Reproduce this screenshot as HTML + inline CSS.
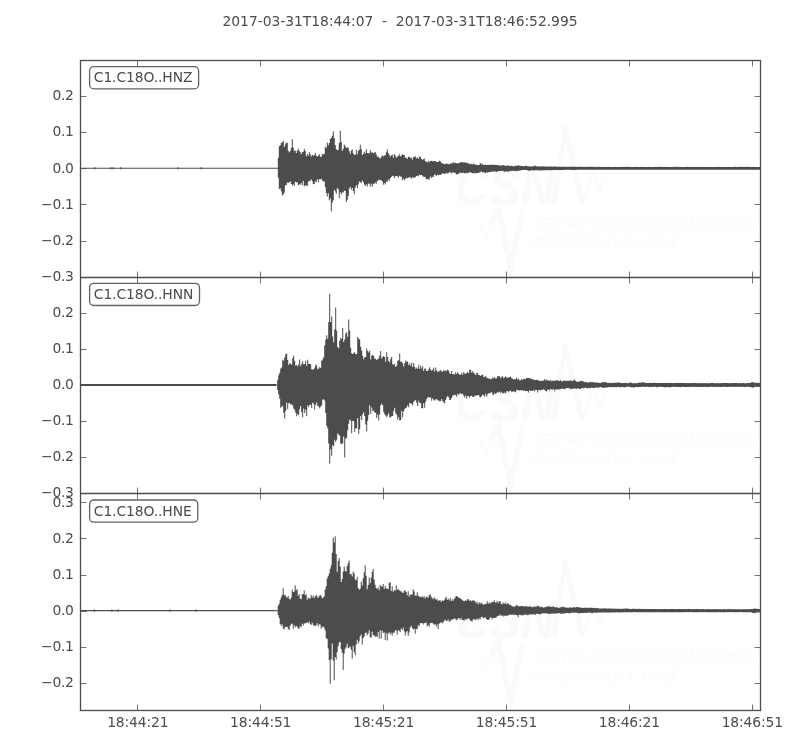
<!DOCTYPE html>
<html lang="en"><head><meta charset="utf-8">
<title>C1.C18O seismogram 2017-03-31T18:44:07</title>
<style>
html,body{margin:0;padding:0;background:#fff;}
body{width:800px;height:750px;overflow:hidden;}
svg{display:block;will-change:transform;}
text{font-family:"DejaVu Sans","Bitstream Vera Sans","Liberation Sans",sans-serif;font-size:13.89px;fill:#4c4c4c;}
.wm text{font-family:"Liberation Sans","DejaVu Sans",sans-serif;fill:#fafafa;}
</style></head><body>
<svg width="800" height="750" viewBox="0 0 800 750">
<rect width="800" height="750" fill="#fff"/>
<text x="400" y="26.3" text-anchor="middle" style="white-space:pre;letter-spacing:-0.03px">2017-03-31T18:44:07  -  2017-03-31T18:46:52.995</text>
<g>
<g class="wm" transform="translate(0 0.00)">
<text x="455" y="204.7" style="font-size:53px;font-weight:bold;font-style:italic" textLength="100" lengthAdjust="spacingAndGlyphs">CSN</text>
<path d="M551 204.7 L563.3 126 L567.6 126 L584.5 203.5 L580 203.5 L565.4 140 L557 204.7Z" fill="#fafafa"/>
<path d="M582.3 203.5 L593.6 172 L600 192 L603.7 176.5" fill="none" stroke="#fafafa" stroke-width="1.6"/>
<path d="M478.8 235 L482.5 226 L486.5 240 L491 224" fill="none" stroke="#fbfbfb" stroke-width="1.4"/>
<path d="M491 224 L499 209 L510.3 268.8 L522.7 209" fill="none" stroke="#fafafa" stroke-width="5.5" stroke-linejoin="miter" stroke-miterlimit="10"/>
<text x="532.8" y="229.6" style="font-size:16px;font-style:italic;fill:#fbfbfb" textLength="222.8" lengthAdjust="spacingAndGlyphs">CENTRO SISMOLÓGICO NACIONAL</text>
<text x="528.7" y="248.2" style="font-size:16px;font-style:italic;fill:#fbfbfb" textLength="150.6" lengthAdjust="spacingAndGlyphs">UNIVERSIDAD DE CHILE</text>
</g>
<path d="M80.5 167.81L276.8 167.81L276.80 167.83L277.80 167.83L277.80 157.70L278.80 157.70L278.80 146.15L279.80 146.15L279.80 145.32L280.80 145.32L280.80 143.06L281.80 143.06L281.80 142.13L282.80 142.13L282.80 140.78L283.80 140.78L283.80 147.00L284.80 147.00L284.80 144.44L285.80 144.44L285.80 142.59L286.80 142.59L286.80 142.88L287.80 142.88L287.80 150.85L288.80 150.85L288.80 152.32L289.80 152.32L289.80 150.99L290.80 150.99L290.80 147.67L291.80 147.67L291.80 139.33L292.80 139.33L292.80 147.71L293.80 147.71L293.80 150.64L294.80 150.64L294.80 150.53L295.80 150.53L295.80 153.07L296.80 153.07L296.80 150.49L297.80 150.49L297.80 148.82L298.80 148.82L298.80 151.09L299.80 151.09L299.80 152.17L300.80 152.17L300.80 154.15L301.80 154.15L301.80 152.18L302.80 152.18L302.80 151.63L303.80 151.63L303.80 148.83L304.80 148.83L304.80 150.99L305.80 150.99L305.80 156.25L306.80 156.25L306.80 153.94L307.80 153.94L307.80 155.79L308.80 155.79L308.80 152.24L309.80 152.24L309.80 154.33L310.80 154.33L310.80 156.52L311.80 156.52L311.80 154.67L312.80 154.67L312.80 155.86L313.80 155.86L313.80 154.94L314.80 154.94L314.80 152.79L315.80 152.79L315.80 155.83L316.80 155.83L316.80 156.53L317.80 156.53L317.80 155.85L318.80 155.85L318.80 154.14L319.80 154.14L319.80 156.58L320.80 156.58L320.80 157.02L321.80 157.02L321.80 154.12L322.80 154.12L322.80 154.45L323.80 154.45L323.80 153.66L324.80 153.66L324.80 146.85L325.80 146.85L325.80 147.89L326.80 147.89L326.80 142.46L327.80 142.46L327.80 145.26L328.80 145.26L328.80 143.05L329.80 143.05L329.80 138.98L330.80 138.98L330.80 137.90L331.80 137.90L331.80 135.86L332.80 135.86L332.80 131.33L333.80 131.33L333.80 138.22L334.80 138.22L334.80 144.98L335.80 144.98L335.80 149.21L336.80 149.21L336.80 150.14L337.80 150.14L337.80 149.82L338.80 149.82L338.80 142.96L339.80 142.96L339.80 130.83L340.80 130.83L340.80 141.67L341.80 141.67L341.80 151.03L342.80 151.03L342.80 148.76L343.80 148.76L343.80 144.69L344.80 144.69L344.80 146.24L345.80 146.24L345.80 147.96L346.80 147.96L346.80 147.26L347.80 147.26L347.80 147.81L348.80 147.81L348.80 151.23L349.80 151.23L349.80 153.87L350.80 153.87L350.80 150.62L351.80 150.62L351.80 149.46L352.80 149.46L352.80 153.19L353.80 153.19L353.80 154.78L354.80 154.78L354.80 154.91L355.80 154.91L355.80 150.04L356.80 150.04L356.80 154.37L357.80 154.37L357.80 151.09L358.80 151.09L358.80 149.73L359.80 149.73L359.80 144.83L360.80 144.83L360.80 149.29L361.80 149.29L361.80 155.09L362.80 155.09L362.80 154.00L363.80 154.00L363.80 151.75L364.80 151.75L364.80 153.58L365.80 153.58L365.80 149.16L366.80 149.16L366.80 153.01L367.80 153.01L367.80 153.13L368.80 153.13L368.80 153.14L369.80 153.14L369.80 150.17L370.80 150.17L370.80 152.39L371.80 152.39L371.80 152.29L372.80 152.29L372.80 153.19L373.80 153.19L373.80 152.64L374.80 152.64L374.80 152.07L375.80 152.07L375.80 154.19L376.80 154.19L376.80 156.84L377.80 156.84L377.80 156.40L378.80 156.40L378.80 157.92L379.80 157.92L379.80 158.41L380.80 158.41L380.80 156.78L381.80 156.78L381.80 155.23L382.80 155.23L382.80 156.52L383.80 156.52L383.80 155.57L384.80 155.57L384.80 155.21L385.80 155.21L385.80 152.31L386.80 152.31L386.80 149.53L387.80 149.53L387.80 153.08L388.80 153.08L388.80 154.72L389.80 154.72L389.80 156.82L390.80 156.82L390.80 155.18L391.80 155.18L391.80 154.51L392.80 154.51L392.80 157.75L393.80 157.75L393.80 154.25L394.80 154.25L394.80 155.48L395.80 155.48L395.80 157.80L396.80 157.80L396.80 156.81L397.80 156.81L397.80 155.86L398.80 155.86L398.80 154.14L399.80 154.14L399.80 156.54L400.80 156.54L400.80 155.43L401.80 155.43L401.80 154.20L402.80 154.20L402.80 155.11L403.80 155.11L403.80 154.95L404.80 154.95L404.80 157.71L405.80 157.71L405.80 157.49L406.80 157.49L406.80 158.90L407.80 158.90L407.80 157.04L408.80 157.04L408.80 156.53L409.80 156.53L409.80 157.66L410.80 157.66L410.80 157.71L411.80 157.71L411.80 159.63L412.80 159.63L412.80 157.35L413.80 157.35L413.80 156.67L414.80 156.67L414.80 156.37L415.80 156.37L415.80 158.30L416.80 158.30L416.80 157.40L417.80 157.40L417.80 159.12L418.80 159.12L418.80 156.60L419.80 156.60L419.80 156.65L420.80 156.65L420.80 158.72L421.80 158.72L421.80 159.63L422.80 159.63L422.80 159.15L423.80 159.15L423.80 158.45L424.80 158.45L424.80 161.04L425.80 161.04L425.80 161.74L426.80 161.74L426.80 162.21L427.80 162.21L427.80 160.89L428.80 160.89L428.80 162.19L429.80 162.19L429.80 161.00L430.80 161.00L430.80 160.76L431.80 160.76L431.80 160.95L432.80 160.95L432.80 161.39L433.80 161.39L433.80 160.99L434.80 160.99L434.80 160.93L435.80 160.93L435.80 161.89L436.80 161.89L436.80 161.71L437.80 161.71L437.80 161.97L438.80 161.97L438.80 160.63L439.80 160.63L439.80 161.36L440.80 161.36L440.80 162.58L441.80 162.58L441.80 163.50L442.80 163.50L442.80 163.41L443.80 163.41L443.80 164.19L444.80 164.19L444.80 164.02L445.80 164.02L445.80 163.40L446.80 163.40L446.80 163.83L447.80 163.83L447.80 164.30L448.80 164.30L448.80 164.25L449.80 164.25L449.80 163.51L450.80 163.51L450.80 163.48L451.80 163.48L451.80 163.21L452.80 163.21L452.80 161.98L453.80 161.98L453.80 163.20L454.80 163.20L454.80 162.63L455.80 162.63L455.80 163.29L456.80 163.29L456.80 163.37L457.80 163.37L457.80 163.16L458.80 163.16L458.80 163.00L459.80 163.00L459.80 162.45L460.80 162.45L460.80 161.94L461.80 161.94L461.80 162.13L462.80 162.13L462.80 162.41L463.80 162.41L463.80 162.24L464.80 162.24L464.80 162.50L465.80 162.50L465.80 163.07L466.80 163.07L466.80 162.83L467.80 162.83L467.80 163.50L468.80 163.50L468.80 163.87L469.80 163.87L469.80 164.36L470.80 164.36L470.80 163.68L471.80 163.68L471.80 164.38L472.80 164.38L472.80 163.78L473.80 163.78L473.80 163.87L474.80 163.87L474.80 164.99L475.80 164.99L475.80 164.49L476.80 164.49L476.80 165.14L477.80 165.14L477.80 164.97L478.80 164.97L478.80 164.91L479.80 164.91L479.80 163.09L480.80 163.09L480.80 164.31L481.80 164.31L481.80 163.76L482.80 163.76L482.80 164.99L483.80 164.99L483.80 164.73L484.80 164.73L484.80 164.66L485.80 164.66L485.80 165.05L486.80 165.05L486.80 164.94L487.80 164.94L487.80 164.65L488.80 164.65L488.80 165.05L489.80 165.05L489.80 165.10L490.80 165.10L490.80 164.43L491.80 164.43L491.80 164.83L492.80 164.83L492.80 164.84L493.80 164.84L493.80 164.82L494.80 164.82L494.80 164.93L495.80 164.93L495.80 164.78L496.80 164.78L496.80 165.32L497.80 165.32L497.80 164.96L498.80 164.96L498.80 165.62L499.80 165.62L499.80 165.50L500.80 165.50L500.80 165.51L501.80 165.51L501.80 165.43L502.80 165.43L502.80 165.12L503.80 165.12L503.80 165.35L504.80 165.35L504.80 165.97L505.80 165.97L505.80 165.85L506.80 165.85L506.80 165.55L507.80 165.55L507.80 165.39L508.80 165.39L508.80 165.65L509.80 165.65L509.80 166.03L510.80 166.03L510.80 165.83L511.80 165.83L511.80 165.95L512.80 165.95L512.80 166.20L513.80 166.20L513.80 166.35L514.80 166.35L514.80 165.57L515.80 165.57L515.80 165.90L516.80 165.90L516.80 165.52L517.80 165.52L517.80 165.31L518.80 165.31L518.80 165.87L519.80 165.87L519.80 165.79L520.80 165.79L520.80 166.07L521.80 166.07L521.80 166.09L522.80 166.09L522.80 166.19L523.80 166.19L523.80 166.37L524.80 166.37L524.80 165.89L525.80 165.89L525.80 165.51L526.80 165.51L526.80 166.26L527.80 166.26L527.80 166.48L528.80 166.48L528.80 166.32L529.80 166.32L529.80 166.49L530.80 166.49L530.80 166.43L531.80 166.43L531.80 166.36L532.80 166.36L532.80 166.49L533.80 166.49L533.80 165.64L534.80 165.64L534.80 165.85L535.80 165.85L535.80 166.22L536.80 166.22L536.80 166.32L537.80 166.32L537.80 166.47L538.80 166.47L538.80 166.38L539.80 166.38L539.80 166.35L540.80 166.35L540.80 166.46L541.80 166.46L541.80 166.40L542.80 166.40L542.80 166.37L543.80 166.37L543.80 166.58L544.80 166.58L544.80 166.59L545.80 166.59L545.80 166.42L546.80 166.42L546.80 166.40L547.80 166.40L547.80 166.64L548.80 166.64L548.80 166.42L549.80 166.42L549.80 166.44L550.80 166.44L550.80 166.56L551.80 166.56L551.80 166.63L552.80 166.63L552.80 166.47L553.80 166.47L553.80 166.60L554.80 166.60L554.80 166.53L555.80 166.53L555.80 166.71L556.80 166.71L556.80 166.64L557.80 166.64L557.80 166.74L558.80 166.74L558.80 166.74L559.80 166.74L559.80 166.63L560.80 166.63L560.80 166.73L561.80 166.73L561.80 166.71L562.80 166.71L562.80 166.69L563.80 166.69L563.80 166.61L564.80 166.61L564.80 166.77L565.80 166.77L565.80 166.64L566.80 166.64L566.80 166.70L567.80 166.70L567.80 166.78L568.80 166.78L568.80 166.73L569.80 166.73L569.80 166.72L570.80 166.72L570.80 166.82L571.80 166.82L571.80 166.66L572.80 166.66L572.80 166.69L573.80 166.69L573.80 166.86L574.80 166.86L574.80 166.80L575.80 166.80L575.80 166.87L576.80 166.87L576.80 166.88L577.80 166.88L577.80 166.76L578.80 166.76L578.80 166.78L579.80 166.78L579.80 166.82L580.80 166.82L580.80 166.85L581.80 166.85L581.80 166.75L582.80 166.75L582.80 166.90L583.80 166.90L583.80 166.80L584.80 166.80L584.80 166.88L585.80 166.88L585.80 166.88L586.80 166.88L586.80 166.86L587.80 166.86L587.80 166.74L588.80 166.74L588.80 166.83L589.80 166.83L589.80 166.76L590.80 166.76L590.80 166.87L591.80 166.87L591.80 166.78L592.80 166.78L592.80 166.93L593.80 166.93L593.80 166.86L594.80 166.86L594.80 166.90L595.80 166.90L595.80 166.95L596.80 166.95L596.80 166.84L597.80 166.84L597.80 166.91L598.80 166.91L598.80 166.84L599.80 166.84L599.80 166.95L600.80 166.95L600.80 166.84L601.80 166.84L601.80 166.96L602.80 166.96L602.80 166.88L603.80 166.88L603.80 166.81L604.80 166.81L604.80 166.91L605.80 166.91L605.80 166.94L606.80 166.94L606.80 166.92L607.80 166.92L607.80 166.83L608.80 166.83L608.80 166.93L609.80 166.93L609.80 166.94L610.80 166.94L610.80 166.93L611.80 166.93L611.80 166.90L612.80 166.90L612.80 166.91L613.80 166.91L613.80 166.90L614.80 166.90L614.80 166.87L615.80 166.87L615.80 166.95L616.80 166.95L616.80 166.91L617.80 166.91L617.80 166.90L618.80 166.90L618.80 166.89L619.80 166.89L619.80 166.99L620.80 166.99L620.80 166.86L621.80 166.86L621.80 166.99L622.80 166.99L622.80 166.84L623.80 166.84L623.80 166.89L624.80 166.89L624.80 166.87L625.80 166.87L625.80 166.96L626.80 166.96L626.80 166.87L627.80 166.87L627.80 166.87L628.80 166.87L628.80 166.94L629.80 166.94L629.80 166.88L630.80 166.88L630.80 166.91L631.80 166.91L631.80 166.88L632.80 166.88L632.80 166.93L633.80 166.93L633.80 166.89L634.80 166.89L634.80 166.86L635.80 166.86L635.80 166.85L636.80 166.85L636.80 166.89L637.80 166.89L637.80 166.88L638.80 166.88L638.80 166.93L639.80 166.93L639.80 166.98L640.80 166.98L640.80 166.83L641.80 166.83L641.80 166.98L642.80 166.98L642.80 166.93L643.80 166.93L643.80 166.83L644.80 166.83L644.80 166.95L645.80 166.95L645.80 166.89L646.80 166.89L646.80 166.97L647.80 166.97L647.80 166.92L648.80 166.92L648.80 166.84L649.80 166.84L649.80 166.99L650.80 166.99L650.80 166.97L651.80 166.97L651.80 166.88L652.80 166.88L652.80 166.97L653.80 166.97L653.80 166.96L654.80 166.96L654.80 166.87L655.80 166.87L655.80 166.91L656.80 166.91L656.80 166.92L657.80 166.92L657.80 166.85L658.80 166.85L658.80 166.95L659.80 166.95L659.80 166.84L660.80 166.84L660.80 166.97L661.80 166.97L661.80 166.84L662.80 166.84L662.80 166.94L663.80 166.94L663.80 166.92L664.80 166.92L664.80 166.83L665.80 166.83L665.80 166.97L666.80 166.97L666.80 166.92L667.80 166.92L667.80 166.87L668.80 166.87L668.80 166.90L669.80 166.90L669.80 166.98L670.80 166.98L670.80 166.96L671.80 166.96L671.80 166.92L672.80 166.92L672.80 166.83L673.80 166.83L673.80 166.91L674.80 166.91L674.80 166.87L675.80 166.87L675.80 166.86L676.80 166.86L676.80 166.86L677.80 166.86L677.80 166.96L678.80 166.96L678.80 166.99L679.80 166.99L679.80 166.93L680.80 166.93L680.80 166.91L681.80 166.91L681.80 166.96L682.80 166.96L682.80 166.94L683.80 166.94L683.80 166.99L684.80 166.99L684.80 166.97L685.80 166.97L685.80 166.92L686.80 166.92L686.80 166.86L687.80 166.86L687.80 166.96L688.80 166.96L688.80 166.96L689.80 166.96L689.80 166.88L690.80 166.88L690.80 166.89L691.80 166.89L691.80 166.94L692.80 166.94L692.80 166.84L693.80 166.84L693.80 166.90L694.80 166.90L694.80 166.95L695.80 166.95L695.80 166.97L696.80 166.97L696.80 166.93L697.80 166.93L697.80 166.84L698.80 166.84L698.80 166.98L699.80 166.98L699.80 166.96L700.80 166.96L700.80 166.92L701.80 166.92L701.80 166.95L702.80 166.95L702.80 166.90L703.80 166.90L703.80 166.98L704.80 166.98L704.80 166.96L705.80 166.96L705.80 166.91L706.80 166.91L706.80 166.96L707.80 166.96L707.80 167.00L708.80 167.00L708.80 167.00L709.80 167.00L709.80 166.89L710.80 166.89L710.80 166.94L711.80 166.94L711.80 166.91L712.80 166.91L712.80 166.97L713.80 166.97L713.80 166.99L714.80 166.99L714.80 167.00L715.80 167.00L715.80 166.94L716.80 166.94L716.80 166.90L717.80 166.90L717.80 166.87L718.80 166.87L718.80 166.96L719.80 166.96L719.80 167.01L720.80 167.01L720.80 166.89L721.80 166.89L721.80 166.88L722.80 166.88L722.80 166.91L723.80 166.91L723.80 166.96L724.80 166.96L724.80 166.90L725.80 166.90L725.80 166.95L726.80 166.95L726.80 166.88L727.80 166.88L727.80 166.91L728.80 166.91L728.80 166.88L729.80 166.88L729.80 166.92L730.80 166.92L730.80 166.93L731.80 166.93L731.80 166.89L732.80 166.89L732.80 166.93L733.80 166.93L733.80 166.87L734.80 166.87L734.80 166.85L735.80 166.85L735.80 166.98L736.80 166.98L736.80 166.97L737.80 166.97L737.80 166.89L738.80 166.89L738.80 166.85L739.80 166.85L739.80 166.94L740.80 166.94L740.80 166.85L741.80 166.85L741.80 166.86L742.80 166.86L742.80 166.92L743.80 166.92L743.80 166.97L744.80 166.97L744.80 166.84L745.80 166.84L745.80 166.91L746.80 166.91L746.80 166.87L747.80 166.87L747.80 166.86L748.80 166.86L748.80 166.92L749.80 166.92L749.80 166.99L750.80 166.99L750.80 167.01L751.80 167.01L751.80 166.99L752.80 166.99L752.80 166.85L753.80 166.85L753.80 166.97L754.80 166.97L754.80 166.89L755.80 166.89L755.80 166.92L756.80 166.92L756.80 167.02L757.80 167.02L757.80 166.94L758.80 166.94L758.80 166.95L759.80 166.95L759.80 166.99L760.80 166.99L760.80 169.74L759.80 169.74L759.80 169.79L758.80 169.79L758.80 169.65L757.80 169.65L757.80 169.70L756.80 169.70L756.80 169.72L755.80 169.72L755.80 169.71L754.80 169.71L754.80 169.72L753.80 169.72L753.80 169.65L752.80 169.65L752.80 169.81L751.80 169.81L751.80 169.71L750.80 169.71L750.80 169.64L749.80 169.64L749.80 169.77L748.80 169.77L748.80 169.64L747.80 169.64L747.80 169.80L746.80 169.80L746.80 169.75L745.80 169.75L745.80 169.77L744.80 169.77L744.80 169.75L743.80 169.75L743.80 169.78L742.80 169.78L742.80 169.70L741.80 169.70L741.80 169.81L740.80 169.81L740.80 169.76L739.80 169.76L739.80 169.71L738.80 169.71L738.80 169.71L737.80 169.71L737.80 169.69L736.80 169.69L736.80 169.66L735.80 169.66L735.80 169.77L734.80 169.77L734.80 169.73L733.80 169.73L733.80 169.74L732.80 169.74L732.80 169.69L731.80 169.69L731.80 169.74L730.80 169.74L730.80 169.81L729.80 169.81L729.80 169.64L728.80 169.64L728.80 169.71L727.80 169.71L727.80 169.73L726.80 169.73L726.80 169.68L725.80 169.68L725.80 169.69L724.80 169.69L724.80 169.66L723.80 169.66L723.80 169.71L722.80 169.71L722.80 169.73L721.80 169.73L721.80 169.79L720.80 169.79L720.80 169.72L719.80 169.72L719.80 169.70L718.80 169.70L718.80 169.72L717.80 169.72L717.80 169.69L716.80 169.69L716.80 169.69L715.80 169.69L715.80 169.80L714.80 169.80L714.80 169.74L713.80 169.74L713.80 169.80L712.80 169.80L712.80 169.73L711.80 169.73L711.80 169.80L710.80 169.80L710.80 169.69L709.80 169.69L709.80 169.71L708.80 169.71L708.80 169.79L707.80 169.79L707.80 169.81L706.80 169.81L706.80 169.66L705.80 169.66L705.80 169.73L704.80 169.73L704.80 169.77L703.80 169.77L703.80 169.78L702.80 169.78L702.80 169.64L701.80 169.64L701.80 169.81L700.80 169.81L700.80 169.75L699.80 169.75L699.80 169.73L698.80 169.73L698.80 169.67L697.80 169.67L697.80 169.66L696.80 169.66L696.80 169.72L695.80 169.72L695.80 169.72L694.80 169.72L694.80 169.65L693.80 169.65L693.80 169.68L692.80 169.68L692.80 169.69L691.80 169.69L691.80 169.66L690.80 169.66L690.80 169.74L689.80 169.74L689.80 169.73L688.80 169.73L688.80 169.78L687.80 169.78L687.80 169.73L686.80 169.73L686.80 169.70L685.80 169.70L685.80 169.80L684.80 169.80L684.80 169.79L683.80 169.79L683.80 169.72L682.80 169.72L682.80 169.78L681.80 169.78L681.80 169.78L680.80 169.78L680.80 169.77L679.80 169.77L679.80 169.75L678.80 169.75L678.80 169.65L677.80 169.65L677.80 169.71L676.80 169.71L676.80 169.70L675.80 169.70L675.80 169.81L674.80 169.81L674.80 169.76L673.80 169.76L673.80 169.72L672.80 169.72L672.80 169.82L671.80 169.82L671.80 169.75L670.80 169.75L670.80 169.71L669.80 169.71L669.80 169.81L668.80 169.81L668.80 169.75L667.80 169.75L667.80 169.70L666.80 169.70L666.80 169.70L665.80 169.70L665.80 169.75L664.80 169.75L664.80 169.81L663.80 169.81L663.80 169.70L662.80 169.70L662.80 169.77L661.80 169.77L661.80 169.70L660.80 169.70L660.80 169.80L659.80 169.80L659.80 169.74L658.80 169.74L658.80 169.79L657.80 169.79L657.80 169.70L656.80 169.70L656.80 169.68L655.80 169.68L655.80 169.66L654.80 169.66L654.80 169.68L653.80 169.68L653.80 169.76L652.80 169.76L652.80 169.81L651.80 169.81L651.80 169.69L650.80 169.69L650.80 169.65L649.80 169.65L649.80 169.75L648.80 169.75L648.80 169.71L647.80 169.71L647.80 169.72L646.80 169.72L646.80 169.79L645.80 169.79L645.80 169.79L644.80 169.79L644.80 169.74L643.80 169.74L643.80 169.76L642.80 169.76L642.80 169.81L641.80 169.81L641.80 169.72L640.80 169.72L640.80 169.78L639.80 169.78L639.80 169.75L638.80 169.75L638.80 169.71L637.80 169.71L637.80 169.70L636.80 169.70L636.80 169.76L635.80 169.76L635.80 169.67L634.80 169.67L634.80 169.75L633.80 169.75L633.80 169.66L632.80 169.66L632.80 169.72L631.80 169.72L631.80 169.66L630.80 169.66L630.80 169.76L629.80 169.76L629.80 169.69L628.80 169.69L628.80 169.70L627.80 169.70L627.80 169.64L626.80 169.64L626.80 169.76L625.80 169.76L625.80 169.77L624.80 169.77L624.80 169.75L623.80 169.75L623.80 169.81L622.80 169.81L622.80 169.80L621.80 169.80L621.80 169.79L620.80 169.79L620.80 169.67L619.80 169.67L619.80 169.79L618.80 169.79L618.80 169.70L617.80 169.70L617.80 169.66L616.80 169.66L616.80 169.67L615.80 169.67L615.80 169.80L614.80 169.80L614.80 169.78L613.80 169.78L613.80 169.78L612.80 169.78L612.80 169.73L611.80 169.73L611.80 169.74L610.80 169.74L610.80 169.75L609.80 169.75L609.80 169.67L608.80 169.67L608.80 169.74L607.80 169.74L607.80 169.78L606.80 169.78L606.80 169.77L605.80 169.77L605.80 169.65L604.80 169.65L604.80 169.73L603.80 169.73L603.80 169.79L602.80 169.79L602.80 169.76L601.80 169.76L601.80 169.69L600.80 169.69L600.80 169.82L599.80 169.82L599.80 169.80L598.80 169.80L598.80 169.82L597.80 169.82L597.80 169.70L596.80 169.70L596.80 169.82L595.80 169.82L595.80 169.68L594.80 169.68L594.80 169.76L593.80 169.76L593.80 169.73L592.80 169.73L592.80 169.66L591.80 169.66L591.80 169.75L590.80 169.75L590.80 169.69L589.80 169.69L589.80 169.73L588.80 169.73L588.80 169.73L587.80 169.73L587.80 169.80L586.80 169.80L586.80 169.76L585.80 169.76L585.80 169.77L584.80 169.77L584.80 169.81L583.80 169.81L583.80 169.69L582.80 169.69L582.80 169.72L581.80 169.72L581.80 169.68L580.80 169.68L580.80 169.72L579.80 169.72L579.80 169.72L578.80 169.72L578.80 169.80L577.80 169.80L577.80 169.71L576.80 169.71L576.80 169.77L575.80 169.77L575.80 169.88L574.80 169.88L574.80 169.90L573.80 169.90L573.80 169.86L572.80 169.86L572.80 169.90L571.80 169.90L571.80 169.92L570.80 169.92L570.80 169.81L569.80 169.81L569.80 169.85L568.80 169.85L568.80 169.85L567.80 169.85L567.80 169.80L566.80 169.80L566.80 169.81L565.80 169.81L565.80 169.90L564.80 169.90L564.80 169.84L563.80 169.84L563.80 169.88L562.80 169.88L562.80 169.90L561.80 169.90L561.80 169.91L560.80 169.91L560.80 170.01L559.80 170.01L559.80 170.07L558.80 170.07L558.80 169.99L557.80 169.99L557.80 169.98L556.80 169.98L556.80 169.95L555.80 169.95L555.80 170.02L554.80 170.02L554.80 170.08L553.80 170.08L553.80 170.02L552.80 170.02L552.80 170.22L551.80 170.22L551.80 170.25L550.80 170.25L550.80 170.25L549.80 170.25L549.80 170.29L548.80 170.29L548.80 170.10L547.80 170.10L547.80 170.17L546.80 170.17L546.80 170.27L545.80 170.27L545.80 170.34L544.80 170.34L544.80 170.15L543.80 170.15L543.80 170.19L542.80 170.19L542.80 170.20L541.80 170.20L541.80 170.39L540.80 170.39L540.80 170.44L539.80 170.44L539.80 170.43L538.80 170.43L538.80 170.35L537.80 170.35L537.80 170.33L536.80 170.33L536.80 170.30L535.80 170.30L535.80 170.31L534.80 170.31L534.80 170.45L533.80 170.45L533.80 170.49L532.80 170.49L532.80 170.26L531.80 170.26L531.80 170.30L530.80 170.30L530.80 170.38L529.80 170.38L529.80 170.88L528.80 170.88L528.80 170.45L527.80 170.45L527.80 170.22L526.80 170.22L526.80 170.05L525.80 170.05L525.80 170.02L524.80 170.02L524.80 170.03L523.80 170.03L523.80 170.06L522.80 170.06L522.80 170.11L521.80 170.11L521.80 170.20L520.80 170.20L520.80 170.46L519.80 170.46L519.80 170.54L518.80 170.54L518.80 170.96L517.80 170.96L517.80 170.86L516.80 170.86L516.80 171.22L515.80 171.22L515.80 170.84L514.80 170.84L514.80 171.02L513.80 171.02L513.80 170.77L512.80 170.77L512.80 170.77L511.80 170.77L511.80 171.11L510.80 171.11L510.80 170.73L509.80 170.73L509.80 171.16L508.80 171.16L508.80 172.10L507.80 172.10L507.80 171.26L506.80 171.26L506.80 171.54L505.80 171.54L505.80 171.57L504.80 171.57L504.80 172.00L503.80 172.00L503.80 170.93L502.80 170.93L502.80 170.70L501.80 170.70L501.80 170.79L500.80 170.79L500.80 171.12L499.80 171.12L499.80 170.99L498.80 170.99L498.80 171.10L497.80 171.10L497.80 171.76L496.80 171.76L496.80 171.99L495.80 171.99L495.80 171.52L494.80 171.52L494.80 171.43L493.80 171.43L493.80 171.49L492.80 171.49L492.80 171.66L491.80 171.66L491.80 171.41L490.80 171.41L490.80 172.22L489.80 172.22L489.80 172.02L488.80 172.02L488.80 172.23L487.80 172.23L487.80 172.82L486.80 172.82L486.80 172.23L485.80 172.23L485.80 173.23L484.80 173.23L484.80 172.48L483.80 172.48L483.80 172.22L482.80 172.22L482.80 172.17L481.80 172.17L481.80 171.62L480.80 171.62L480.80 172.12L479.80 172.12L479.80 172.45L478.80 172.45L478.80 173.01L477.80 173.01L477.80 172.91L476.80 172.91L476.80 173.06L475.80 173.06L475.80 173.46L474.80 173.46L474.80 172.71L473.80 172.71L473.80 173.41L472.80 173.41L472.80 172.98L471.80 172.98L471.80 172.82L470.80 172.82L470.80 172.15L469.80 172.15L469.80 172.29L468.80 172.29L468.80 173.29L467.80 173.29L467.80 172.80L466.80 172.80L466.80 173.13L465.80 173.13L465.80 173.20L464.80 173.20L464.80 173.28L463.80 173.28L463.80 172.65L462.80 172.65L462.80 172.82L461.80 172.82L461.80 173.35L460.80 173.35L460.80 172.57L459.80 172.57L459.80 173.31L458.80 173.31L458.80 174.07L457.80 174.07L457.80 174.16L456.80 174.16L456.80 174.55L455.80 174.55L455.80 172.95L454.80 172.95L454.80 172.57L453.80 172.57L453.80 172.61L452.80 172.61L452.80 172.48L451.80 172.48L451.80 173.39L450.80 173.39L450.80 172.27L449.80 172.27L449.80 172.31L448.80 172.31L448.80 173.28L447.80 173.28L447.80 173.75L446.80 173.75L446.80 172.85L445.80 172.85L445.80 173.83L444.80 173.83L444.80 173.88L443.80 173.88L443.80 173.58L442.80 173.58L442.80 173.17L441.80 173.17L441.80 174.63L440.80 174.63L440.80 174.85L439.80 174.85L439.80 174.76L438.80 174.76L438.80 175.24L437.80 175.24L437.80 174.86L436.80 174.86L436.80 176.23L435.80 176.23L435.80 174.61L434.80 174.61L434.80 175.10L433.80 175.10L433.80 177.34L432.80 177.34L432.80 176.86L431.80 176.86L431.80 178.04L430.80 178.04L430.80 176.49L429.80 176.49L429.80 179.40L428.80 179.40L428.80 179.33L427.80 179.33L427.80 178.93L426.80 178.93L426.80 179.27L425.80 179.27L425.80 177.19L424.80 177.19L424.80 176.84L423.80 176.84L423.80 176.66L422.80 176.66L422.80 175.58L421.80 175.58L421.80 175.01L420.80 175.01L420.80 175.35L419.80 175.35L419.80 174.59L418.80 174.59L418.80 176.15L417.80 176.15L417.80 175.73L416.80 175.73L416.80 176.03L415.80 176.03L415.80 177.54L414.80 177.54L414.80 177.61L413.80 177.61L413.80 177.69L412.80 177.69L412.80 177.16L411.80 177.16L411.80 178.65L410.80 178.65L410.80 177.37L409.80 177.37L409.80 177.22L408.80 177.22L408.80 177.73L407.80 177.73L407.80 178.32L406.80 178.32L406.80 177.68L405.80 177.68L405.80 179.05L404.80 179.05L404.80 180.24L403.80 180.24L403.80 178.62L402.80 178.62L402.80 180.32L401.80 180.32L401.80 176.80L400.80 176.80L400.80 176.48L399.80 176.48L399.80 175.75L398.80 175.75L398.80 177.46L397.80 177.46L397.80 176.48L396.80 176.48L396.80 176.04L395.80 176.04L395.80 176.24L394.80 176.24L394.80 178.22L393.80 178.22L393.80 176.12L392.80 176.12L392.80 175.69L391.80 175.69L391.80 176.91L390.80 176.91L390.80 178.30L389.80 178.30L389.80 180.76L388.80 180.76L388.80 179.58L387.80 179.58L387.80 181.70L386.80 181.70L386.80 181.47L385.80 181.47L385.80 184.40L384.80 184.40L384.80 183.06L383.80 183.06L383.80 184.84L382.80 184.84L382.80 181.42L381.80 181.42L381.80 180.19L380.80 180.19L380.80 180.14L379.80 180.14L379.80 179.41L378.80 179.41L378.80 180.24L377.80 180.24L377.80 181.00L376.80 181.00L376.80 183.67L375.80 183.67L375.80 182.51L374.80 182.51L374.80 183.77L373.80 183.77L373.80 183.71L372.80 183.71L372.80 186.83L371.80 186.83L371.80 183.82L370.80 183.82L370.80 186.43L369.80 186.43L369.80 183.42L368.80 183.42L368.80 183.79L367.80 183.79L367.80 186.62L366.80 186.62L366.80 184.30L365.80 184.30L365.80 185.90L364.80 185.90L364.80 184.47L363.80 184.47L363.80 181.99L362.80 181.99L362.80 180.59L361.80 180.59L361.80 182.85L360.80 182.85L360.80 182.17L359.80 182.17L359.80 181.47L358.80 181.47L358.80 184.57L357.80 184.57L357.80 188.36L356.80 188.36L356.80 185.20L355.80 185.20L355.80 187.54L354.80 187.54L354.80 194.33L353.80 194.33L353.80 190.88L352.80 190.88L352.80 188.05L351.80 188.05L351.80 189.71L350.80 189.71L350.80 186.87L349.80 186.87L349.80 188.42L348.80 188.42L348.80 196.02L347.80 196.02L347.80 199.68L346.80 199.68L346.80 201.94L345.80 201.94L345.80 190.92L344.80 190.92L344.80 190.53L343.80 190.53L343.80 192.38L342.80 192.38L342.80 192.52L341.80 192.52L341.80 194.58L340.80 194.58L340.80 192.30L339.80 192.30L339.80 198.30L338.80 198.30L338.80 189.37L337.80 189.37L337.80 187.98L336.80 187.98L336.80 193.80L335.80 193.80L335.80 191.13L334.80 191.13L334.80 189.70L333.80 189.70L333.80 200.30L332.80 200.30L332.80 202.81L331.80 202.81L331.80 211.33L330.80 211.33L330.80 198.20L329.80 198.20L329.80 200.36L328.80 200.36L328.80 193.25L327.80 193.25L327.80 196.40L326.80 196.40L326.80 193.03L325.80 193.03L325.80 187.02L324.80 187.02L324.80 181.29L323.80 181.29L323.80 181.38L322.80 181.38L322.80 180.53L321.80 180.53L321.80 178.84L320.80 178.84L320.80 179.32L319.80 179.32L319.80 179.32L318.80 179.32L318.80 182.17L317.80 182.17L317.80 179.35L316.80 179.35L316.80 181.76L315.80 181.76L315.80 181.60L314.80 181.60L314.80 184.13L313.80 184.13L313.80 184.10L312.80 184.10L312.80 181.17L311.80 181.17L311.80 179.18L310.80 179.18L310.80 180.64L309.80 180.64L309.80 180.78L308.80 180.78L308.80 181.82L307.80 181.82L307.80 185.96L306.80 185.96L306.80 185.49L305.80 185.49L305.80 185.24L304.80 185.24L304.80 186.44L303.80 186.44L303.80 180.99L302.80 180.99L302.80 185.29L301.80 185.29L301.80 182.97L300.80 182.97L300.80 184.48L299.80 184.48L299.80 184.61L298.80 184.61L298.80 185.15L297.80 185.15L297.80 182.51L296.80 182.51L296.80 182.24L295.80 182.24L295.80 181.75L294.80 181.75L294.80 185.92L293.80 185.92L293.80 184.19L292.80 184.19L292.80 185.42L291.80 185.42L291.80 184.09L290.80 184.09L290.80 181.23L289.80 181.23L289.80 182.09L288.80 182.09L288.80 182.88L287.80 182.88L287.80 182.38L286.80 182.38L286.80 184.99L285.80 184.99L285.80 185.56L284.80 185.56L284.80 192.72L283.80 192.72L283.80 194.18L282.80 194.18L282.80 195.54L281.80 195.54L281.80 191.29L280.80 191.29L280.80 188.34L279.80 188.34L279.80 189.14L278.80 189.14L278.80 177.65L277.80 177.65L277.80 168.83L276.80 168.83L276.8 168.86L80.5 168.86ZM94.2 167.36h1.3v1.85h-1.3ZM110.3 167.36h1.3v1.85h-1.3ZM112.5 167.36h1.3v1.85h-1.3ZM120.0 167.36h1.3v1.85h-1.3ZM177.3 167.36h1.3v1.85h-1.3ZM200.3 167.36h1.3v1.85h-1.3Z" fill="#4c4c4c" stroke="none"/>
<path d="M80.50 96.50h5.90M760.50 96.50h-5.90" stroke="#4c4c4c" stroke-width="0.80" fill="none"/>
<text x="73.6" y="100.31" text-anchor="end" style="letter-spacing:-0.3px">0.2</text>
<path d="M80.50 132.50h5.90M760.50 132.50h-5.90" stroke="#4c4c4c" stroke-width="0.80" fill="none"/>
<text x="73.6" y="136.42" text-anchor="end" style="letter-spacing:-0.3px">0.1</text>
<path d="M80.50 168.50h5.90M760.50 168.50h-5.90" stroke="#4c4c4c" stroke-width="0.80" fill="none"/>
<text x="73.6" y="172.53" text-anchor="end" style="letter-spacing:-0.3px">0.0</text>
<path d="M80.50 204.50h5.90M760.50 204.50h-5.90" stroke="#4c4c4c" stroke-width="0.80" fill="none"/>
<text x="73.6" y="208.64" text-anchor="end" style="letter-spacing:-0.3px">−0.1</text>
<path d="M80.50 241.50h5.90M760.50 241.50h-5.90" stroke="#4c4c4c" stroke-width="0.80" fill="none"/>
<text x="73.6" y="244.75" text-anchor="end" style="letter-spacing:-0.3px">−0.2</text>
<path d="M80.50 277.50h5.90M760.50 277.50h-5.90" stroke="#4c4c4c" stroke-width="0.80" fill="none"/>
<text x="73.6" y="280.86" text-anchor="end" style="letter-spacing:-0.3px">−0.3</text>
<path d="M137.50 277.50v-5.90M137.50 60.50v5.90" stroke="#4c4c4c" stroke-width="0.80" fill="none"/>
<path d="M260.50 277.50v-5.90M260.50 60.50v5.90" stroke="#4c4c4c" stroke-width="0.80" fill="none"/>
<path d="M383.50 277.50v-5.90M383.50 60.50v5.90" stroke="#4c4c4c" stroke-width="0.80" fill="none"/>
<path d="M506.50 277.50v-5.90M506.50 60.50v5.90" stroke="#4c4c4c" stroke-width="0.80" fill="none"/>
<path d="M629.50 277.50v-5.90M629.50 60.50v5.90" stroke="#4c4c4c" stroke-width="0.80" fill="none"/>
<path d="M752.50 277.50v-5.90M752.50 60.50v5.90" stroke="#4c4c4c" stroke-width="0.80" fill="none"/>
<rect x="89.60" y="66.65" width="109.00" height="22.20" rx="4.2" ry="4.2" fill="#fff" fill-opacity="0.8" stroke="#626262" stroke-width="1.3"/>
<text x="93.8" y="82.30" style="letter-spacing:-0.1px">C1.C18O..HNZ</text>
</g>
<g>
<g class="wm" transform="translate(0 216.67)">
<text x="455" y="204.7" style="font-size:53px;font-weight:bold;font-style:italic" textLength="100" lengthAdjust="spacingAndGlyphs">CSN</text>
<path d="M551 204.7 L563.3 126 L567.6 126 L584.5 203.5 L580 203.5 L565.4 140 L557 204.7Z" fill="#fafafa"/>
<path d="M582.3 203.5 L593.6 172 L600 192 L603.7 176.5" fill="none" stroke="#fafafa" stroke-width="1.6"/>
<path d="M478.8 235 L482.5 226 L486.5 240 L491 224" fill="none" stroke="#fbfbfb" stroke-width="1.4"/>
<path d="M491 224 L499 209 L510.3 268.8 L522.7 209" fill="none" stroke="#fafafa" stroke-width="5.5" stroke-linejoin="miter" stroke-miterlimit="10"/>
<text x="532.8" y="229.6" style="font-size:16px;font-style:italic;fill:#fbfbfb" textLength="222.8" lengthAdjust="spacingAndGlyphs">CENTRO SISMOLÓGICO NACIONAL</text>
<text x="528.7" y="248.2" style="font-size:16px;font-style:italic;fill:#fbfbfb" textLength="150.6" lengthAdjust="spacingAndGlyphs">UNIVERSIDAD DE CHILE</text>
</g>
<path d="M80.5 384.02L276.2 384.02L276.20 384.45L277.20 384.45L277.20 379.69L278.20 379.69L278.20 375.24L279.20 375.24L279.20 372.64L280.20 372.64L280.20 368.59L281.20 368.59L281.20 367.38L282.20 367.38L282.20 359.84L283.20 359.84L283.20 360.82L284.20 360.82L284.20 357.53L285.20 357.53L285.20 354.22L286.20 354.22L286.20 353.45L287.20 353.45L287.20 360.11L288.20 360.11L288.20 364.98L289.20 364.98L289.20 363.32L290.20 363.32L290.20 363.60L291.20 363.60L291.20 364.84L292.20 364.84L292.20 358.30L293.20 358.30L293.20 355.45L294.20 355.45L294.20 361.01L295.20 361.01L295.20 365.60L296.20 365.60L296.20 364.97L297.20 364.97L297.20 366.40L298.20 366.40L298.20 364.19L299.20 364.19L299.20 359.45L300.20 359.45L300.20 366.16L301.20 366.16L301.20 363.78L302.20 363.78L302.20 361.29L303.20 361.29L303.20 364.29L304.20 364.29L304.20 363.99L305.20 363.99L305.20 360.74L306.20 360.74L306.20 365.87L307.20 365.87L307.20 359.84L308.20 359.84L308.20 363.85L309.20 363.85L309.20 364.05L310.20 364.05L310.20 364.21L311.20 364.21L311.20 369.15L312.20 369.15L312.20 369.47L313.20 369.47L313.20 369.32L314.20 369.32L314.20 367.85L315.20 367.85L315.20 364.74L316.20 364.74L316.20 365.48L317.20 365.48L317.20 369.37L318.20 369.37L318.20 368.51L319.20 368.51L319.20 367.00L320.20 367.00L320.20 367.94L321.20 367.94L321.20 360.80L322.20 360.80L322.20 359.40L323.20 359.40L323.20 357.31L324.20 357.31L324.20 345.55L325.20 345.55L325.20 339.63L326.20 339.63L326.20 335.18L327.20 335.18L327.20 338.86L328.20 338.86L328.20 322.33L329.20 322.33L329.20 293.75L330.20 293.75L330.20 322.08L331.20 322.08L331.20 316.61L332.20 316.61L332.20 336.41L333.20 336.41L333.20 342.35L334.20 342.35L334.20 329.16L335.20 329.16L335.20 307.45L336.20 307.45L336.20 330.67L337.20 330.67L337.20 347.11L338.20 347.11L338.20 348.13L339.20 348.13L339.20 340.79L340.20 340.79L340.20 337.77L341.20 337.77L341.20 339.04L342.20 339.04L342.20 327.95L343.20 327.95L343.20 342.04L344.20 342.04L344.20 339.53L345.20 339.53L345.20 333.54L346.20 333.54L346.20 332.26L347.20 332.26L347.20 336.74L348.20 336.74L348.20 319.45L349.20 319.45L349.20 330.62L350.20 330.62L350.20 347.78L351.20 347.78L351.20 353.13L352.20 353.13L352.20 354.03L353.20 354.03L353.20 352.99L354.20 352.99L354.20 352.20L355.20 352.20L355.20 354.18L356.20 354.18L356.20 353.99L357.20 353.99L357.20 336.92L358.20 336.92L358.20 338.65L359.20 338.65L359.20 339.45L360.20 339.45L360.20 346.75L361.20 346.75L361.20 350.56L362.20 350.56L362.20 355.66L363.20 355.66L363.20 359.37L364.20 359.37L364.20 357.37L365.20 357.37L365.20 357.12L366.20 357.12L366.20 348.46L367.20 348.46L367.20 351.06L368.20 351.06L368.20 352.55L369.20 352.55L369.20 350.73L370.20 350.73L370.20 359.46L371.20 359.46L371.20 355.54L372.20 355.54L372.20 355.11L373.20 355.11L373.20 356.01L374.20 356.01L374.20 358.76L375.20 358.76L375.20 358.67L376.20 358.67L376.20 359.99L377.20 359.99L377.20 359.29L378.20 359.29L378.20 358.40L379.20 358.40L379.20 355.51L380.20 355.51L380.20 350.96L381.20 350.96L381.20 358.60L382.20 358.60L382.20 356.92L383.20 356.92L383.20 355.88L384.20 355.88L384.20 357.01L385.20 357.01L385.20 361.81L386.20 361.81L386.20 352.15L387.20 352.15L387.20 356.91L388.20 356.91L388.20 360.88L389.20 360.88L389.20 362.33L390.20 362.33L390.20 358.83L391.20 358.83L391.20 357.07L392.20 357.07L392.20 364.23L393.20 364.23L393.20 364.71L394.20 364.71L394.20 364.05L395.20 364.05L395.20 366.99L396.20 366.99L396.20 365.82L397.20 365.82L397.20 360.79L398.20 360.79L398.20 360.26L399.20 360.26L399.20 353.45L400.20 353.45L400.20 361.79L401.20 361.79L401.20 361.86L402.20 361.86L402.20 363.36L403.20 363.36L403.20 366.59L404.20 366.59L404.20 363.28L405.20 363.28L405.20 360.53L406.20 360.53L406.20 361.68L407.20 361.68L407.20 361.46L408.20 361.46L408.20 365.17L409.20 365.17L409.20 363.50L410.20 363.50L410.20 365.75L411.20 365.75L411.20 362.82L412.20 362.82L412.20 367.08L413.20 367.08L413.20 363.06L414.20 363.06L414.20 366.78L415.20 366.78L415.20 368.71L416.20 368.71L416.20 367.49L417.20 367.49L417.20 368.75L418.20 368.75L418.20 364.68L419.20 364.68L419.20 368.63L420.20 368.63L420.20 365.66L421.20 365.66L421.20 368.53L422.20 368.53L422.20 366.34L423.20 366.34L423.20 370.90L424.20 370.90L424.20 368.45L425.20 368.45L425.20 368.65L426.20 368.65L426.20 371.07L427.20 371.07L427.20 370.98L428.20 370.98L428.20 369.51L429.20 369.51L429.20 367.28L430.20 367.28L430.20 369.46L431.20 369.46L431.20 370.66L432.20 370.66L432.20 369.68L433.20 369.68L433.20 367.67L434.20 367.67L434.20 371.50L435.20 371.50L435.20 367.51L436.20 367.51L436.20 370.32L437.20 370.32L437.20 371.65L438.20 371.65L438.20 371.66L439.20 371.66L439.20 370.51L440.20 370.51L440.20 370.05L441.20 370.05L441.20 371.55L442.20 371.55L442.20 371.76L443.20 371.76L443.20 370.00L444.20 370.00L444.20 371.13L445.20 371.13L445.20 370.47L446.20 370.47L446.20 370.64L447.20 370.64L447.20 369.46L448.20 369.46L448.20 370.87L449.20 370.87L449.20 373.14L450.20 373.14L450.20 373.97L451.20 373.97L451.20 371.06L452.20 371.06L452.20 374.28L453.20 374.28L453.20 373.97L454.20 373.97L454.20 374.48L455.20 374.48L455.20 372.13L456.20 372.13L456.20 373.90L457.20 373.90L457.20 372.25L458.20 372.25L458.20 373.74L459.20 373.74L459.20 374.88L460.20 374.88L460.20 374.50L461.20 374.50L461.20 373.12L462.20 373.12L462.20 374.81L463.20 374.81L463.20 372.10L464.20 372.10L464.20 373.41L465.20 373.41L465.20 373.99L466.20 373.99L466.20 373.01L467.20 373.01L467.20 371.88L468.20 371.88L468.20 373.26L469.20 373.26L469.20 369.80L470.20 369.80L470.20 370.12L471.20 370.12L471.20 372.84L472.20 372.84L472.20 371.23L473.20 371.23L473.20 372.69L474.20 372.69L474.20 373.68L475.20 373.68L475.20 375.25L476.20 375.25L476.20 372.65L477.20 372.65L477.20 373.25L478.20 373.25L478.20 375.04L479.20 375.04L479.20 375.21L480.20 375.21L480.20 375.90L481.20 375.90L481.20 374.90L482.20 374.90L482.20 374.60L483.20 374.60L483.20 376.76L484.20 376.76L484.20 377.18L485.20 377.18L485.20 375.97L486.20 375.97L486.20 377.55L487.20 377.55L487.20 378.33L488.20 378.33L488.20 378.41L489.20 378.41L489.20 378.63L490.20 378.63L490.20 379.23L491.20 379.23L491.20 378.83L492.20 378.83L492.20 377.51L493.20 377.51L493.20 378.44L494.20 378.44L494.20 377.27L495.20 377.27L495.20 378.43L496.20 378.43L496.20 378.17L497.20 378.17L497.20 376.11L498.20 376.11L498.20 376.28L499.20 376.28L499.20 376.16L500.20 376.16L500.20 378.27L501.20 378.27L501.20 376.78L502.20 376.78L502.20 376.37L503.20 376.37L503.20 378.15L504.20 378.15L504.20 377.59L505.20 377.59L505.20 376.13L506.20 376.13L506.20 377.43L507.20 377.43L507.20 377.63L508.20 377.63L508.20 377.41L509.20 377.41L509.20 376.97L510.20 376.97L510.20 376.52L511.20 376.52L511.20 378.18L512.20 378.18L512.20 378.75L513.20 378.75L513.20 379.45L514.20 379.45L514.20 379.21L515.20 379.21L515.20 378.91L516.20 378.91L516.20 377.55L517.20 377.55L517.20 379.39L518.20 379.39L518.20 378.78L519.20 378.78L519.20 380.49L520.20 380.49L520.20 380.24L521.20 380.24L521.20 378.75L522.20 378.75L522.20 379.89L523.20 379.89L523.20 378.81L524.20 378.81L524.20 378.80L525.20 378.80L525.20 379.02L526.20 379.02L526.20 377.73L527.20 377.73L527.20 378.05L528.20 378.05L528.20 378.06L529.20 378.06L529.20 378.57L530.20 378.57L530.20 378.13L531.20 378.13L531.20 378.95L532.20 378.95L532.20 379.54L533.20 379.54L533.20 379.53L534.20 379.53L534.20 380.03L535.20 380.03L535.20 379.94L536.20 379.94L536.20 380.07L537.20 380.07L537.20 379.46L538.20 379.46L538.20 380.82L539.20 380.82L539.20 380.75L540.20 380.75L540.20 380.72L541.20 380.72L541.20 381.01L542.20 381.01L542.20 380.62L543.20 380.62L543.20 380.75L544.20 380.75L544.20 378.93L545.20 378.93L545.20 380.53L546.20 380.53L546.20 379.50L547.20 379.50L547.20 380.48L548.20 380.48L548.20 380.58L549.20 380.58L549.20 380.82L550.20 380.82L550.20 379.99L551.20 379.99L551.20 381.26L552.20 381.26L552.20 380.39L553.20 380.39L553.20 381.04L554.20 381.04L554.20 380.48L555.20 380.48L555.20 380.75L556.20 380.75L556.20 380.41L557.20 380.41L557.20 380.07L558.20 380.07L558.20 381.07L559.20 381.07L559.20 381.10L560.20 381.10L560.20 380.02L561.20 380.02L561.20 381.54L562.20 381.54L562.20 381.23L563.20 381.23L563.20 380.44L564.20 380.44L564.20 380.81L565.20 380.81L565.20 380.83L566.20 380.83L566.20 380.76L567.20 380.76L567.20 381.01L568.20 381.01L568.20 380.67L569.20 380.67L569.20 380.54L570.20 380.54L570.20 380.51L571.20 380.51L571.20 380.84L572.20 380.84L572.20 381.14L573.20 381.14L573.20 380.13L574.20 380.13L574.20 379.58L575.20 379.58L575.20 381.08L576.20 381.08L576.20 381.80L577.20 381.80L577.20 381.63L578.20 381.63L578.20 381.76L579.20 381.76L579.20 381.59L580.20 381.59L580.20 380.61L581.20 380.61L581.20 381.11L582.20 381.11L582.20 381.29L583.20 381.29L583.20 381.55L584.20 381.55L584.20 382.28L585.20 382.28L585.20 381.93L586.20 381.93L586.20 382.30L587.20 382.30L587.20 382.51L588.20 382.51L588.20 382.59L589.20 382.59L589.20 382.13L590.20 382.13L590.20 381.71L591.20 381.71L591.20 382.20L592.20 382.20L592.20 382.09L593.20 382.09L593.20 382.41L594.20 382.41L594.20 382.50L595.20 382.50L595.20 382.48L596.20 382.48L596.20 382.50L597.20 382.50L597.20 382.76L598.20 382.76L598.20 382.78L599.20 382.78L599.20 382.91L600.20 382.91L600.20 383.01L601.20 383.01L601.20 382.56L602.20 382.56L602.20 382.00L603.20 382.00L603.20 382.30L604.20 382.30L604.20 382.27L605.20 382.27L605.20 382.00L606.20 382.00L606.20 382.73L607.20 382.73L607.20 382.63L608.20 382.63L608.20 382.66L609.20 382.66L609.20 382.98L610.20 382.98L610.20 383.11L611.20 383.11L611.20 382.90L612.20 382.90L612.20 382.70L613.20 382.70L613.20 383.11L614.20 383.11L614.20 382.71L615.20 382.71L615.20 382.66L616.20 382.66L616.20 382.74L617.20 382.74L617.20 382.59L618.20 382.59L618.20 382.56L619.20 382.56L619.20 382.39L620.20 382.39L620.20 382.94L621.20 382.94L621.20 383.22L622.20 383.22L622.20 382.91L623.20 382.91L623.20 382.95L624.20 382.95L624.20 383.10L625.20 383.10L625.20 382.83L626.20 382.83L626.20 383.26L627.20 383.26L627.20 383.14L628.20 383.14L628.20 383.02L629.20 383.02L629.20 382.75L630.20 382.75L630.20 382.57L631.20 382.57L631.20 382.73L632.20 382.73L632.20 383.13L633.20 383.13L633.20 383.20L634.20 383.20L634.20 383.14L635.20 383.14L635.20 383.12L636.20 383.12L636.20 383.17L637.20 383.17L637.20 382.93L638.20 382.93L638.20 382.73L639.20 382.73L639.20 382.51L640.20 382.51L640.20 382.79L641.20 382.79L641.20 382.62L642.20 382.62L642.20 382.47L643.20 382.47L643.20 382.07L644.20 382.07L644.20 382.89L645.20 382.89L645.20 382.83L646.20 382.83L646.20 383.06L647.20 383.06L647.20 383.00L648.20 383.00L648.20 382.99L649.20 382.99L649.20 382.93L650.20 382.93L650.20 382.87L651.20 382.87L651.20 382.99L652.20 382.99L652.20 382.97L653.20 382.97L653.20 382.87L654.20 382.87L654.20 382.86L655.20 382.86L655.20 383.11L656.20 383.11L656.20 382.90L657.20 382.90L657.20 383.02L658.20 383.02L658.20 382.99L659.20 382.99L659.20 383.11L660.20 383.11L660.20 382.89L661.20 382.89L661.20 383.00L662.20 383.00L662.20 383.06L663.20 383.06L663.20 383.00L664.20 383.00L664.20 382.90L665.20 382.90L665.20 383.00L666.20 383.00L666.20 382.89L667.20 382.89L667.20 382.97L668.20 382.97L668.20 382.96L669.20 382.96L669.20 382.87L670.20 382.87L670.20 383.12L671.20 383.12L671.20 383.05L672.20 383.05L672.20 383.13L673.20 383.13L673.20 382.91L674.20 382.91L674.20 383.02L675.20 383.02L675.20 382.90L676.20 382.90L676.20 383.12L677.20 383.12L677.20 382.89L678.20 382.89L678.20 383.06L679.20 383.06L679.20 383.07L680.20 383.07L680.20 383.00L681.20 383.00L681.20 382.99L682.20 382.99L682.20 382.94L683.20 382.94L683.20 382.94L684.20 382.94L684.20 382.96L685.20 382.96L685.20 383.10L686.20 383.10L686.20 383.16L687.20 383.16L687.20 382.92L688.20 382.92L688.20 383.12L689.20 383.12L689.20 383.17L690.20 383.17L690.20 382.96L691.20 382.96L691.20 383.14L692.20 383.14L692.20 382.98L693.20 382.98L693.20 382.96L694.20 382.96L694.20 382.96L695.20 382.96L695.20 382.98L696.20 382.98L696.20 383.20L697.20 383.20L697.20 383.07L698.20 383.07L698.20 383.17L699.20 383.17L699.20 382.96L700.20 382.96L700.20 383.20L701.20 383.20L701.20 383.13L702.20 383.13L702.20 383.09L703.20 383.09L703.20 383.20L704.20 383.20L704.20 383.16L705.20 383.16L705.20 383.08L706.20 383.08L706.20 383.15L707.20 383.15L707.20 383.20L708.20 383.20L708.20 383.18L709.20 383.18L709.20 383.13L710.20 383.13L710.20 382.98L711.20 382.98L711.20 382.99L712.20 382.99L712.20 383.10L713.20 383.10L713.20 383.04L714.20 383.04L714.20 383.15L715.20 383.15L715.20 383.17L716.20 383.17L716.20 383.22L717.20 383.22L717.20 383.01L718.20 383.01L718.20 383.18L719.20 383.18L719.20 383.15L720.20 383.15L720.20 383.21L721.20 383.21L721.20 383.02L722.20 383.02L722.20 383.02L723.20 383.02L723.20 382.97L724.20 382.97L724.20 383.05L725.20 383.05L725.20 382.98L726.20 382.98L726.20 383.04L727.20 383.04L727.20 382.98L728.20 382.98L728.20 383.15L729.20 383.15L729.20 383.03L730.20 383.03L730.20 383.17L731.20 383.17L731.20 383.05L732.20 383.05L732.20 383.21L733.20 383.21L733.20 383.09L734.20 383.09L734.20 383.08L735.20 383.08L735.20 383.09L736.20 383.09L736.20 383.03L737.20 383.03L737.20 383.23L738.20 383.23L738.20 383.21L739.20 383.21L739.20 383.07L740.20 383.07L740.20 383.25L741.20 383.25L741.20 383.21L742.20 383.21L742.20 383.12L743.20 383.12L743.20 383.05L744.20 383.05L744.20 383.13L745.20 383.13L745.20 383.19L746.20 383.19L746.20 383.18L747.20 383.18L747.20 383.10L748.20 383.10L748.20 382.97L749.20 382.97L749.20 383.09L750.20 383.09L750.20 382.72L751.20 382.72L751.20 382.19L752.20 382.19L752.20 382.19L753.20 382.19L753.20 382.17L754.20 382.17L754.20 382.97L755.20 382.97L755.20 382.56L756.20 382.56L756.20 382.90L757.20 382.90L757.20 382.89L758.20 382.89L758.20 382.86L759.20 382.86L759.20 383.03L760.20 383.03L760.00 383.01L761.00 383.01L761.00 386.87L760.00 386.87L760.20 386.95L759.20 386.95L759.20 386.82L758.20 386.82L758.20 386.92L757.20 386.92L757.20 386.97L756.20 386.97L756.20 386.60L755.20 386.60L755.20 387.28L754.20 387.28L754.20 387.18L753.20 387.18L753.20 387.65L752.20 387.65L752.20 387.56L751.20 387.56L751.20 387.03L750.20 387.03L750.20 386.94L749.20 386.94L749.20 386.74L748.20 386.74L748.20 386.85L747.20 386.85L747.20 386.79L746.20 386.79L746.20 386.92L745.20 386.92L745.20 386.89L744.20 386.89L744.20 386.80L743.20 386.80L743.20 386.91L742.20 386.91L742.20 386.81L741.20 386.81L741.20 386.72L740.20 386.72L740.20 386.86L739.20 386.86L739.20 386.89L738.20 386.89L738.20 386.79L737.20 386.79L737.20 386.77L736.20 386.77L736.20 386.85L735.20 386.85L735.20 386.89L734.20 386.89L734.20 386.75L733.20 386.75L733.20 386.72L732.20 386.72L732.20 386.73L731.20 386.73L731.20 386.91L730.20 386.91L730.20 386.80L729.20 386.80L729.20 386.97L728.20 386.97L728.20 386.96L727.20 386.96L727.20 386.92L726.20 386.92L726.20 386.77L725.20 386.77L725.20 386.76L724.20 386.76L724.20 386.98L723.20 386.98L723.20 386.84L722.20 386.84L722.20 386.96L721.20 386.96L721.20 386.91L720.20 386.91L720.20 386.84L719.20 386.84L719.20 386.99L718.20 386.99L718.20 386.81L717.20 386.81L717.20 386.85L716.20 386.85L716.20 386.98L715.20 386.98L715.20 386.92L714.20 386.92L714.20 386.78L713.20 386.78L713.20 387.04L712.20 387.04L712.20 386.81L711.20 386.81L711.20 386.81L710.20 386.81L710.20 386.88L709.20 386.88L709.20 386.85L708.20 386.85L708.20 386.94L707.20 386.94L707.20 387.06L706.20 387.06L706.20 386.98L705.20 386.98L705.20 386.83L704.20 386.83L704.20 387.00L703.20 387.00L703.20 387.00L702.20 387.00L702.20 386.95L701.20 386.95L701.20 386.83L700.20 386.83L700.20 387.00L699.20 387.00L699.20 386.92L698.20 386.92L698.20 386.93L697.20 386.93L697.20 386.99L696.20 386.99L696.20 386.80L695.20 386.80L695.20 387.00L694.20 387.00L694.20 386.87L693.20 386.87L693.20 386.90L692.20 386.90L692.20 386.84L691.20 386.84L691.20 386.87L690.20 386.87L690.20 387.09L689.20 387.09L689.20 387.06L688.20 387.06L688.20 386.89L687.20 386.89L687.20 387.01L686.20 387.01L686.20 387.11L685.20 387.11L685.20 387.09L684.20 387.09L684.20 386.88L683.20 386.88L683.20 386.77L682.20 386.77L682.20 386.81L681.20 386.81L681.20 387.18L680.20 387.18L680.20 386.92L679.20 386.92L679.20 387.02L678.20 387.02L678.20 386.94L677.20 386.94L677.20 386.87L676.20 386.87L676.20 386.94L675.20 386.94L675.20 386.97L674.20 386.97L674.20 386.81L673.20 386.81L673.20 386.74L672.20 386.74L672.20 387.12L671.20 387.12L671.20 387.21L670.20 387.21L670.20 387.18L669.20 387.18L669.20 387.14L668.20 387.14L668.20 387.00L667.20 387.00L667.20 387.11L666.20 387.11L666.20 387.51L665.20 387.51L665.20 387.19L664.20 387.19L664.20 387.08L663.20 387.08L663.20 387.12L662.20 387.12L662.20 387.03L661.20 387.03L661.20 386.70L660.20 386.70L660.20 386.87L659.20 386.87L659.20 386.93L658.20 386.93L658.20 387.24L657.20 387.24L657.20 387.15L656.20 387.15L656.20 386.87L655.20 386.87L655.20 386.78L654.20 386.78L654.20 386.79L653.20 386.79L653.20 387.01L652.20 387.01L652.20 386.68L651.20 386.68L651.20 387.36L650.20 387.36L650.20 386.73L649.20 386.73L649.20 386.90L648.20 386.90L648.20 386.69L647.20 386.69L647.20 386.67L646.20 386.67L646.20 386.86L645.20 386.86L645.20 387.01L644.20 387.01L644.20 386.85L643.20 386.85L643.20 386.78L642.20 386.78L642.20 386.85L641.20 386.85L641.20 387.08L640.20 387.08L640.20 386.93L639.20 386.93L639.20 387.33L638.20 387.33L638.20 387.04L637.20 387.04L637.20 386.88L636.20 386.88L636.20 387.07L635.20 387.07L635.20 387.36L634.20 387.36L634.20 387.70L633.20 387.70L633.20 387.22L632.20 387.22L632.20 387.28L631.20 387.28L631.20 387.21L630.20 387.21L630.20 386.88L629.20 386.88L629.20 386.74L628.20 386.74L628.20 386.61L627.20 386.61L627.20 386.79L626.20 386.79L626.20 387.26L625.20 387.26L625.20 387.31L624.20 387.31L624.20 387.29L623.20 387.29L623.20 386.86L622.20 386.86L622.20 386.92L621.20 386.92L621.20 387.20L620.20 387.20L620.20 387.13L619.20 387.13L619.20 386.70L618.20 386.70L618.20 386.95L617.20 386.95L617.20 387.14L616.20 387.14L616.20 387.13L615.20 387.13L615.20 386.91L614.20 386.91L614.20 386.91L613.20 386.91L613.20 387.34L612.20 387.34L612.20 387.17L611.20 387.17L611.20 387.01L610.20 387.01L610.20 387.27L609.20 387.27L609.20 387.09L608.20 387.09L608.20 387.17L607.20 387.17L607.20 387.69L606.20 387.69L606.20 387.62L605.20 387.62L605.20 387.52L604.20 387.52L604.20 387.80L603.20 387.80L603.20 388.00L602.20 388.00L602.20 387.32L601.20 387.32L601.20 387.08L600.20 387.08L600.20 387.26L599.20 387.26L599.20 387.54L598.20 387.54L598.20 387.92L597.20 387.92L597.20 387.19L596.20 387.19L596.20 387.48L595.20 387.48L595.20 387.96L594.20 387.96L594.20 388.08L593.20 388.08L593.20 387.99L592.20 387.99L592.20 387.59L591.20 387.59L591.20 387.90L590.20 387.90L590.20 388.30L589.20 388.30L589.20 387.73L588.20 387.73L588.20 388.23L587.20 388.23L587.20 388.29L586.20 388.29L586.20 387.55L585.20 387.55L585.20 388.02L584.20 388.02L584.20 388.20L583.20 388.20L583.20 388.22L582.20 388.22L582.20 388.06L581.20 388.06L581.20 389.00L580.20 389.00L580.20 389.04L579.20 389.04L579.20 388.58L578.20 388.58L578.20 388.36L577.20 388.36L577.20 388.88L576.20 388.88L576.20 388.49L575.20 388.49L575.20 388.47L574.20 388.47L574.20 388.53L573.20 388.53L573.20 388.69L572.20 388.69L572.20 388.86L571.20 388.86L571.20 389.23L570.20 389.23L570.20 388.47L569.20 388.47L569.20 388.09L568.20 388.09L568.20 388.06L567.20 388.06L567.20 388.19L566.20 388.19L566.20 388.49L565.20 388.49L565.20 389.26L564.20 389.26L564.20 389.03L563.20 389.03L563.20 388.43L562.20 388.43L562.20 388.76L561.20 388.76L561.20 389.12L560.20 389.12L560.20 389.58L559.20 389.58L559.20 389.16L558.20 389.16L558.20 389.58L557.20 389.58L557.20 389.43L556.20 389.43L556.20 389.54L555.20 389.54L555.20 391.16L554.20 391.16L554.20 389.06L553.20 389.06L553.20 389.85L552.20 389.85L552.20 389.49L551.20 389.49L551.20 389.06L550.20 389.06L550.20 390.31L549.20 390.31L549.20 389.69L548.20 389.69L548.20 389.41L547.20 389.41L547.20 391.41L546.20 391.41L546.20 391.04L545.20 391.04L545.20 389.94L544.20 389.94L544.20 389.02L543.20 389.02L543.20 389.76L542.20 389.76L542.20 389.68L541.20 389.68L541.20 390.50L540.20 390.50L540.20 389.88L539.20 389.88L539.20 389.90L538.20 389.90L538.20 392.60L537.20 392.60L537.20 390.12L536.20 390.12L536.20 389.74L535.20 389.74L535.20 391.41L534.20 391.41L534.20 389.88L533.20 389.88L533.20 391.07L532.20 391.07L532.20 390.82L531.20 390.82L531.20 390.95L530.20 390.95L530.20 390.15L529.20 390.15L529.20 392.43L528.20 392.43L528.20 391.36L527.20 391.36L527.20 391.12L526.20 391.12L526.20 391.06L525.20 391.06L525.20 390.59L524.20 390.59L524.20 391.04L523.20 391.04L523.20 389.99L522.20 389.99L522.20 390.70L521.20 390.70L521.20 389.93L520.20 389.93L520.20 390.51L519.20 390.51L519.20 390.32L518.20 390.32L518.20 390.17L517.20 390.17L517.20 389.73L516.20 389.73L516.20 392.28L515.20 392.28L515.20 391.42L514.20 391.42L514.20 391.59L513.20 391.59L513.20 391.39L512.20 391.39L512.20 391.76L511.20 391.76L511.20 390.64L510.20 390.64L510.20 390.80L509.20 390.80L509.20 392.22L508.20 392.22L508.20 390.91L507.20 390.91L507.20 391.31L506.20 391.31L506.20 393.36L505.20 393.36L505.20 392.60L504.20 392.60L504.20 393.37L503.20 393.37L503.20 393.40L502.20 393.40L502.20 391.69L501.20 391.69L501.20 393.26L500.20 393.26L500.20 391.77L499.20 391.77L499.20 392.18L498.20 392.18L498.20 392.50L497.20 392.50L497.20 392.78L496.20 392.78L496.20 393.96L495.20 393.96L495.20 392.93L494.20 392.93L494.20 394.70L493.20 394.70L493.20 394.85L492.20 394.85L492.20 391.96L491.20 391.96L491.20 392.63L490.20 392.63L490.20 393.26L489.20 393.26L489.20 393.33L488.20 393.33L488.20 394.29L487.20 394.29L487.20 396.70L486.20 396.70L486.20 393.80L485.20 393.80L485.20 396.52L484.20 396.52L484.20 395.39L483.20 395.39L483.20 394.57L482.20 394.57L482.20 395.94L481.20 395.94L481.20 397.41L480.20 397.41L480.20 396.71L479.20 396.71L479.20 395.11L478.20 395.11L478.20 395.32L477.20 395.32L477.20 395.35L476.20 395.35L476.20 395.69L475.20 395.69L475.20 395.86L474.20 395.86L474.20 397.02L473.20 397.02L473.20 397.11L472.20 397.11L472.20 395.75L471.20 395.75L471.20 396.00L470.20 396.00L470.20 397.77L469.20 397.77L469.20 396.17L468.20 396.17L468.20 395.95L467.20 395.95L467.20 398.74L466.20 398.74L466.20 395.56L465.20 395.56L465.20 397.47L464.20 397.47L464.20 395.74L463.20 395.74L463.20 393.69L462.20 393.69L462.20 394.14L461.20 394.14L461.20 393.15L460.20 393.15L460.20 393.56L459.20 393.56L459.20 395.06L458.20 395.06L458.20 393.68L457.20 393.68L457.20 396.82L456.20 396.82L456.20 395.14L455.20 395.14L455.20 394.75L454.20 394.75L454.20 395.29L453.20 395.29L453.20 395.57L452.20 395.57L452.20 397.89L451.20 397.89L451.20 399.80L450.20 399.80L450.20 400.00L449.20 400.00L449.20 397.19L448.20 397.19L448.20 396.06L447.20 396.06L447.20 397.52L446.20 397.52L446.20 399.94L445.20 399.94L445.20 403.32L444.20 403.32L444.20 402.39L443.20 402.39L443.20 401.09L442.20 401.09L442.20 398.96L441.20 398.96L441.20 400.94L440.20 400.94L440.20 401.27L439.20 401.27L439.20 400.62L438.20 400.62L438.20 400.21L437.20 400.21L437.20 399.06L436.20 399.06L436.20 399.42L435.20 399.42L435.20 400.79L434.20 400.79L434.20 399.61L433.20 399.61L433.20 398.50L432.20 398.50L432.20 400.80L431.20 400.80L431.20 397.48L430.20 397.48L430.20 397.53L429.20 397.53L429.20 397.06L428.20 397.06L428.20 397.54L427.20 397.54L427.20 399.00L426.20 399.00L426.20 401.84L425.20 401.84L425.20 407.71L424.20 407.71L424.20 403.31L423.20 403.31L423.20 408.26L422.20 408.26L422.20 408.23L421.20 408.23L421.20 403.24L420.20 403.24L420.20 403.00L419.20 403.00L419.20 400.85L418.20 400.85L418.20 405.95L417.20 405.95L417.20 402.86L416.20 402.86L416.20 400.28L415.20 400.28L415.20 400.55L414.20 400.55L414.20 402.12L413.20 402.12L413.20 405.33L412.20 405.33L412.20 403.98L411.20 403.98L411.20 403.23L410.20 403.23L410.20 402.88L409.20 402.88L409.20 407.21L408.20 407.21L408.20 405.37L407.20 405.37L407.20 407.30L406.20 407.30L406.20 408.09L405.20 408.09L405.20 409.11L404.20 409.11L404.20 411.60L403.20 411.60L403.20 417.40L402.20 417.40L402.20 410.94L401.20 410.94L401.20 419.93L400.20 419.93L400.20 420.45L399.20 420.45L399.20 417.15L398.20 417.15L398.20 419.45L397.20 419.45L397.20 414.80L396.20 414.80L396.20 413.23L395.20 413.23L395.20 407.77L394.20 407.77L394.20 411.06L393.20 411.06L393.20 416.08L392.20 416.08L392.20 416.13L391.20 416.13L391.20 417.17L390.20 417.17L390.20 417.28L389.20 417.28L389.20 413.21L388.20 413.21L388.20 415.31L387.20 415.31L387.20 417.37L386.20 417.37L386.20 415.85L385.20 415.85L385.20 414.23L384.20 414.23L384.20 412.20L383.20 412.20L383.20 405.19L382.20 405.19L382.20 403.42L381.20 403.42L381.20 405.51L380.20 405.51L380.20 414.20L379.20 414.20L379.20 420.60L378.20 420.60L378.20 414.85L377.20 414.85L377.20 417.95L376.20 417.95L376.20 413.05L375.20 413.05L375.20 412.21L374.20 412.21L374.20 410.45L373.20 410.45L373.20 411.18L372.20 411.18L372.20 407.52L371.20 407.52L371.20 413.86L370.20 413.86L370.20 405.20L369.20 405.20L369.20 414.88L368.20 414.88L368.20 420.77L367.20 420.77L367.20 431.45L366.20 431.45L366.20 424.59L365.20 424.59L365.20 416.10L364.20 416.10L364.20 412.36L363.20 412.36L363.20 414.18L362.20 414.18L362.20 420.10L361.20 420.10L361.20 415.89L360.20 415.89L360.20 429.14L359.20 429.14L359.20 433.87L358.20 433.87L358.20 417.98L357.20 417.98L357.20 428.42L356.20 428.42L356.20 428.19L355.20 428.19L355.20 432.03L354.20 432.03L354.20 421.13L353.20 421.13L353.20 420.75L352.20 420.75L352.20 433.21L351.20 433.21L351.20 420.66L350.20 420.66L350.20 419.59L349.20 419.59L349.20 423.63L348.20 423.63L348.20 430.18L347.20 430.18L347.20 437.99L346.20 437.99L346.20 438.69L345.20 438.69L345.20 457.45L344.20 457.45L344.20 436.42L343.20 436.42L343.20 443.23L342.20 443.23L342.20 444.35L341.20 444.35L341.20 443.47L340.20 443.47L340.20 435.64L339.20 435.64L339.20 434.78L338.20 434.78L338.20 433.19L337.20 433.19L337.20 439.65L336.20 439.65L336.20 442.00L335.20 442.00L335.20 439.87L334.20 439.87L334.20 446.48L333.20 446.48L333.20 445.06L332.20 445.06L332.20 455.64L331.20 455.64L331.20 449.35L330.20 449.35L330.20 463.45L329.20 463.45L329.20 443.41L328.20 443.41L328.20 428.17L327.20 428.17L327.20 425.85L326.20 425.85L326.20 413.07L325.20 413.07L325.20 400.48L324.20 400.48L324.20 399.31L323.20 399.31L323.20 399.83L322.20 399.83L322.20 405.28L321.20 405.28L321.20 406.79L320.20 406.79L320.20 408.13L319.20 408.13L319.20 406.40L318.20 406.40L318.20 406.12L317.20 406.12L317.20 402.58L316.20 402.58L316.20 404.93L315.20 404.93L315.20 409.79L314.20 409.79L314.20 403.84L313.20 403.84L313.20 402.83L312.20 402.83L312.20 407.90L311.20 407.90L311.20 404.83L310.20 404.83L310.20 405.06L309.20 405.06L309.20 407.25L308.20 407.25L308.20 405.60L307.20 405.60L307.20 416.15L306.20 416.15L306.20 409.76L305.20 409.76L305.20 413.02L304.20 413.02L304.20 408.59L303.20 408.59L303.20 417.14L302.20 417.14L302.20 412.16L301.20 412.16L301.20 406.09L300.20 406.09L300.20 409.07L299.20 409.07L299.20 415.22L298.20 415.22L298.20 413.89L297.20 413.89L297.20 416.18L296.20 416.18L296.20 412.83L295.20 412.83L295.20 410.06L294.20 410.06L294.20 408.62L293.20 408.62L293.20 405.49L292.20 405.49L292.20 404.14L291.20 404.14L291.20 404.80L290.20 404.80L290.20 403.14L289.20 403.14L289.20 403.28L288.20 403.28L288.20 408.93L287.20 408.93L287.20 402.60L286.20 402.60L286.20 410.92L285.20 410.92L285.20 418.45L284.20 418.45L284.20 412.85L283.20 412.85L283.20 405.70L282.20 405.70L282.20 406.66L281.20 406.66L281.20 407.66L280.20 407.66L280.20 398.72L279.20 398.72L279.20 394.40L278.20 394.40L278.20 390.06L277.20 390.06L277.20 385.45L276.20 385.45L276.2 385.88L80.5 385.88Z" fill="#4c4c4c" stroke="none"/>
<path d="M80.50 313.50h5.90M760.50 313.50h-5.90" stroke="#4c4c4c" stroke-width="0.80" fill="none"/>
<text x="73.6" y="316.93" text-anchor="end" style="letter-spacing:-0.3px">0.2</text>
<path d="M80.50 349.50h5.90M760.50 349.50h-5.90" stroke="#4c4c4c" stroke-width="0.80" fill="none"/>
<text x="73.6" y="353.04" text-anchor="end" style="letter-spacing:-0.3px">0.1</text>
<path d="M80.50 385.50h5.90M760.50 385.50h-5.90" stroke="#4c4c4c" stroke-width="0.80" fill="none"/>
<text x="73.6" y="389.15" text-anchor="end" style="letter-spacing:-0.3px">0.0</text>
<path d="M80.50 421.50h5.90M760.50 421.50h-5.90" stroke="#4c4c4c" stroke-width="0.80" fill="none"/>
<text x="73.6" y="425.26" text-anchor="end" style="letter-spacing:-0.3px">−0.1</text>
<path d="M80.50 457.50h5.90M760.50 457.50h-5.90" stroke="#4c4c4c" stroke-width="0.80" fill="none"/>
<text x="73.6" y="461.37" text-anchor="end" style="letter-spacing:-0.3px">−0.2</text>
<path d="M80.50 493.50h5.90M760.50 493.50h-5.90" stroke="#4c4c4c" stroke-width="0.80" fill="none"/>
<text x="73.6" y="497.48" text-anchor="end" style="letter-spacing:-0.3px">−0.3</text>
<path d="M137.50 493.50v-5.90M137.50 277.50v5.90" stroke="#4c4c4c" stroke-width="0.80" fill="none"/>
<path d="M260.50 493.50v-5.90M260.50 277.50v5.90" stroke="#4c4c4c" stroke-width="0.80" fill="none"/>
<path d="M383.50 493.50v-5.90M383.50 277.50v5.90" stroke="#4c4c4c" stroke-width="0.80" fill="none"/>
<path d="M506.50 493.50v-5.90M506.50 277.50v5.90" stroke="#4c4c4c" stroke-width="0.80" fill="none"/>
<path d="M629.50 493.50v-5.90M629.50 277.50v5.90" stroke="#4c4c4c" stroke-width="0.80" fill="none"/>
<path d="M752.50 493.50v-5.90M752.50 277.50v5.90" stroke="#4c4c4c" stroke-width="0.80" fill="none"/>
<rect x="89.60" y="283.32" width="109.90" height="22.20" rx="4.2" ry="4.2" fill="#fff" fill-opacity="0.8" stroke="#626262" stroke-width="1.3"/>
<text x="93.8" y="298.97" style="letter-spacing:-0.1px">C1.C18O..HNN</text>
</g>
<g>
<g class="wm" transform="translate(0 433.33)">
<text x="455" y="204.7" style="font-size:53px;font-weight:bold;font-style:italic" textLength="100" lengthAdjust="spacingAndGlyphs">CSN</text>
<path d="M551 204.7 L563.3 126 L567.6 126 L584.5 203.5 L580 203.5 L565.4 140 L557 204.7Z" fill="#fafafa"/>
<path d="M582.3 203.5 L593.6 172 L600 192 L603.7 176.5" fill="none" stroke="#fafafa" stroke-width="1.6"/>
<path d="M478.8 235 L482.5 226 L486.5 240 L491 224" fill="none" stroke="#fbfbfb" stroke-width="1.4"/>
<path d="M491 224 L499 209 L510.3 268.8 L522.7 209" fill="none" stroke="#fafafa" stroke-width="5.5" stroke-linejoin="miter" stroke-miterlimit="10"/>
<text x="532.8" y="229.6" style="font-size:16px;font-style:italic;fill:#fbfbfb" textLength="222.8" lengthAdjust="spacingAndGlyphs">CENTRO SISMOLÓGICO NACIONAL</text>
<text x="528.7" y="248.2" style="font-size:16px;font-style:italic;fill:#fbfbfb" textLength="150.6" lengthAdjust="spacingAndGlyphs">UNIVERSIDAD DE CHILE</text>
</g>
<path d="M80.5 610.05L276.7 610.05L276.70 610.20L277.70 610.20L277.70 605.84L278.70 605.84L278.70 603.60L279.70 603.60L279.70 599.75L280.70 599.75L280.70 597.20L281.70 597.20L281.70 594.74L282.70 594.74L282.70 588.29L283.70 588.29L283.70 595.14L284.70 595.14L284.70 594.84L285.70 594.84L285.70 596.72L286.70 596.72L286.70 597.81L287.70 597.81L287.70 595.96L288.70 595.96L288.70 598.64L289.70 598.64L289.70 599.46L290.70 599.46L290.70 597.45L291.70 597.45L291.70 589.54L292.70 589.54L292.70 591.92L293.70 591.92L293.70 591.56L294.70 591.56L294.70 585.32L295.70 585.32L295.70 590.33L296.70 590.33L296.70 589.25L297.70 589.25L297.70 595.65L298.70 595.65L298.70 593.89L299.70 593.89L299.70 598.61L300.70 598.61L300.70 599.23L301.70 599.23L301.70 594.36L302.70 594.36L302.70 593.95L303.70 593.95L303.70 590.54L304.70 590.54L304.70 595.33L305.70 595.33L305.70 594.33L306.70 594.33L306.70 599.84L307.70 599.84L307.70 597.44L308.70 597.44L308.70 598.77L309.70 598.77L309.70 598.32L310.70 598.32L310.70 594.96L311.70 594.96L311.70 597.53L312.70 597.53L312.70 595.54L313.70 595.54L313.70 598.24L314.70 598.24L314.70 596.14L315.70 596.14L315.70 595.11L316.70 595.11L316.70 596.46L317.70 596.46L317.70 598.00L318.70 598.00L318.70 595.92L319.70 595.92L319.70 594.66L320.70 594.66L320.70 596.10L321.70 596.10L321.70 598.36L322.70 598.36L322.70 597.67L323.70 597.67L323.70 596.23L324.70 596.23L324.70 589.41L325.70 589.41L325.70 586.23L326.70 586.23L326.70 578.46L327.70 578.46L327.70 576.24L328.70 576.24L328.70 573.60L329.70 573.60L329.70 568.74L330.70 568.74L330.70 565.51L331.70 565.51L331.70 552.80L332.70 552.80L332.70 537.70L333.70 537.70L333.70 542.53L334.70 542.53L334.70 536.20L335.70 536.20L335.70 554.03L336.70 554.03L336.70 571.74L337.70 571.74L337.70 560.97L338.70 560.97L338.70 557.95L339.70 557.95L339.70 566.49L340.70 566.49L340.70 582.12L341.70 582.12L341.70 579.10L342.70 579.10L342.70 571.48L343.70 571.48L343.70 566.49L344.70 566.49L344.70 571.02L345.70 571.02L345.70 571.55L346.70 571.55L346.70 566.04L347.70 566.04L347.70 563.11L348.70 563.11L348.70 560.39L349.70 560.39L349.70 574.16L350.70 574.16L350.70 574.07L351.70 574.07L351.70 576.59L352.70 576.59L352.70 571.59L353.70 571.59L353.70 573.49L354.70 573.49L354.70 579.38L355.70 579.38L355.70 580.15L356.70 580.15L356.70 576.67L357.70 576.67L357.70 587.97L358.70 587.97L358.70 589.87L359.70 589.87L359.70 588.79L360.70 588.79L360.70 581.60L361.70 581.60L361.70 585.60L362.70 585.60L362.70 578.18L363.70 578.18L363.70 572.25L364.70 572.25L364.70 565.20L365.70 565.20L365.70 575.82L366.70 575.82L366.70 589.17L367.70 589.17L367.70 584.93L368.70 584.93L368.70 577.56L369.70 577.56L369.70 583.34L370.70 583.34L370.70 577.70L371.70 577.70L371.70 571.66L372.70 571.66L372.70 568.90L373.70 568.90L373.70 579.49L374.70 579.49L374.70 584.65L375.70 584.65L375.70 587.88L376.70 587.88L376.70 589.05L377.70 589.05L377.70 587.59L378.70 587.59L378.70 590.32L379.70 590.32L379.70 584.86L380.70 584.86L380.70 586.43L381.70 586.43L381.70 586.38L382.70 586.38L382.70 584.00L383.70 584.00L383.70 588.97L384.70 588.97L384.70 585.76L385.70 585.76L385.70 588.33L386.70 588.33L386.70 588.53L387.70 588.53L387.70 589.36L388.70 589.36L388.70 583.10L389.70 583.10L389.70 581.99L390.70 581.99L390.70 591.06L391.70 591.06L391.70 586.30L392.70 586.30L392.70 591.74L393.70 591.74L393.70 589.93L394.70 589.93L394.70 590.67L395.70 590.67L395.70 585.19L396.70 585.19L396.70 589.83L397.70 589.83L397.70 588.95L398.70 588.95L398.70 590.28L399.70 590.28L399.70 591.03L400.70 591.03L400.70 591.44L401.70 591.44L401.70 592.59L402.70 592.59L402.70 593.12L403.70 593.12L403.70 590.97L404.70 590.97L404.70 590.36L405.70 590.36L405.70 591.91L406.70 591.91L406.70 595.37L407.70 595.37L407.70 591.22L408.70 591.22L408.70 596.70L409.70 596.70L409.70 594.60L410.70 594.60L410.70 594.53L411.70 594.53L411.70 594.66L412.70 594.66L412.70 589.28L413.70 589.28L413.70 591.58L414.70 591.58L414.70 595.42L415.70 595.42L415.70 595.65L416.70 595.65L416.70 592.29L417.70 592.29L417.70 595.57L418.70 595.57L418.70 596.47L419.70 596.47L419.70 597.01L420.70 597.01L420.70 597.26L421.70 597.26L421.70 596.04L422.70 596.04L422.70 597.49L423.70 597.49L423.70 596.21L424.70 596.21L424.70 598.44L425.70 598.44L425.70 596.77L426.70 596.77L426.70 596.64L427.70 596.64L427.70 597.87L428.70 597.87L428.70 594.93L429.70 594.93L429.70 594.53L430.70 594.53L430.70 596.52L431.70 596.52L431.70 598.02L432.70 598.02L432.70 599.15L433.70 599.15L433.70 597.28L434.70 597.28L434.70 598.85L435.70 598.85L435.70 599.73L436.70 599.73L436.70 599.17L437.70 599.17L437.70 600.94L438.70 600.94L438.70 600.21L439.70 600.21L439.70 600.26L440.70 600.26L440.70 602.04L441.70 602.04L441.70 600.16L442.70 600.16L442.70 601.10L443.70 601.10L443.70 600.24L444.70 600.24L444.70 598.14L445.70 598.14L445.70 596.71L446.70 596.71L446.70 599.94L447.70 599.94L447.70 598.40L448.70 598.40L448.70 600.20L449.70 600.20L449.70 597.80L450.70 597.80L450.70 600.93L451.70 600.93L451.70 599.36L452.70 599.36L452.70 600.84L453.70 600.84L453.70 599.01L454.70 599.01L454.70 597.56L455.70 597.56L455.70 595.98L456.70 595.98L456.70 596.21L457.70 596.21L457.70 597.01L458.70 597.01L458.70 598.31L459.70 598.31L459.70 597.93L460.70 597.93L460.70 598.93L461.70 598.93L461.70 600.11L462.70 600.11L462.70 600.73L463.70 600.73L463.70 601.33L464.70 601.33L464.70 600.14L465.70 600.14L465.70 600.91L466.70 600.91L466.70 599.24L467.70 599.24L467.70 599.33L468.70 599.33L468.70 600.86L469.70 600.86L469.70 599.67L470.70 599.67L470.70 601.62L471.70 601.62L471.70 600.45L472.70 600.45L472.70 600.45L473.70 600.45L473.70 600.56L474.70 600.56L474.70 601.45L475.70 601.45L475.70 603.19L476.70 603.19L476.70 602.02L477.70 602.02L477.70 604.21L478.70 604.21L478.70 602.18L479.70 602.18L479.70 603.76L480.70 603.76L480.70 602.60L481.70 602.60L481.70 603.85L482.70 603.85L482.70 604.64L483.70 604.64L483.70 604.38L484.70 604.38L484.70 604.03L485.70 604.03L485.70 603.87L486.70 603.87L486.70 601.29L487.70 601.29L487.70 603.65L488.70 603.65L488.70 602.49L489.70 602.49L489.70 603.42L490.70 603.42L490.70 602.47L491.70 602.47L491.70 602.10L492.70 602.10L492.70 602.04L493.70 602.04L493.70 600.34L494.70 600.34L494.70 602.50L495.70 602.50L495.70 602.60L496.70 602.60L496.70 600.75L497.70 600.75L497.70 602.98L498.70 602.98L498.70 601.15L499.70 601.15L499.70 601.17L500.70 601.17L500.70 603.88L501.70 603.88L501.70 604.22L502.70 604.22L502.70 602.47L503.70 602.47L503.70 603.98L504.70 603.98L504.70 602.26L505.70 602.26L505.70 604.23L506.70 604.23L506.70 603.56L507.70 603.56L507.70 603.21L508.70 603.21L508.70 604.60L509.70 604.60L509.70 604.75L510.70 604.75L510.70 605.38L511.70 605.38L511.70 606.25L512.70 606.25L512.70 606.58L513.70 606.58L513.70 606.42L514.70 606.42L514.70 606.45L515.70 606.45L515.70 605.17L516.70 605.17L516.70 605.25L517.70 605.25L517.70 606.17L518.70 606.17L518.70 606.34L519.70 606.34L519.70 606.32L520.70 606.32L520.70 606.02L521.70 606.02L521.70 606.06L522.70 606.06L522.70 605.92L523.70 605.92L523.70 606.83L524.70 606.83L524.70 606.10L525.70 606.10L525.70 606.49L526.70 606.49L526.70 606.26L527.70 606.26L527.70 606.99L528.70 606.99L528.70 606.10L529.70 606.10L529.70 606.49L530.70 606.49L530.70 607.07L531.70 607.07L531.70 606.73L532.70 606.73L532.70 607.28L533.70 607.28L533.70 606.32L534.70 606.32L534.70 606.66L535.70 606.66L535.70 606.87L536.70 606.87L536.70 605.84L537.70 605.84L537.70 605.78L538.70 605.78L538.70 606.52L539.70 606.52L539.70 607.15L540.70 607.15L540.70 606.40L541.70 606.40L541.70 606.95L542.70 606.95L542.70 607.66L543.70 607.66L543.70 607.41L544.70 607.41L544.70 606.96L545.70 606.96L545.70 606.64L546.70 606.64L546.70 606.83L547.70 606.83L547.70 605.79L548.70 605.79L548.70 606.80L549.70 606.80L549.70 606.29L550.70 606.29L550.70 606.99L551.70 606.99L551.70 607.09L552.70 607.09L552.70 605.95L553.70 605.95L553.70 607.33L554.70 607.33L554.70 607.21L555.70 607.21L555.70 607.33L556.70 607.33L556.70 607.30L557.70 607.30L557.70 608.00L558.70 608.00L558.70 607.77L559.70 607.77L559.70 607.60L560.70 607.60L560.70 607.12L561.70 607.12L561.70 607.20L562.70 607.20L562.70 606.32L563.70 606.32L563.70 607.40L564.70 607.40L564.70 607.26L565.70 607.26L565.70 607.73L566.70 607.73L566.70 607.62L567.70 607.62L567.70 607.93L568.70 607.93L568.70 607.14L569.70 607.14L569.70 607.39L570.70 607.39L570.70 607.38L571.70 607.38L571.70 607.75L572.70 607.75L572.70 607.25L573.70 607.25L573.70 607.12L574.70 607.12L574.70 607.63L575.70 607.63L575.70 607.06L576.70 607.06L576.70 607.03L577.70 607.03L577.70 607.26L578.70 607.26L578.70 607.20L579.70 607.20L579.70 607.74L580.70 607.74L580.70 607.62L581.70 607.62L581.70 608.12L582.70 608.12L582.70 608.01L583.70 608.01L583.70 607.52L584.70 607.52L584.70 608.08L585.70 608.08L585.70 607.50L586.70 607.50L586.70 608.01L587.70 608.01L587.70 607.63L588.70 607.63L588.70 607.50L589.70 607.50L589.70 608.05L590.70 608.05L590.70 607.41L591.70 607.41L591.70 607.64L592.70 607.64L592.70 608.01L593.70 608.01L593.70 607.96L594.70 607.96L594.70 608.16L595.70 608.16L595.70 607.82L596.70 607.82L596.70 607.96L597.70 607.96L597.70 608.29L598.70 608.29L598.70 608.46L599.70 608.46L599.70 608.57L600.70 608.57L600.70 608.56L601.70 608.56L601.70 608.55L602.70 608.55L602.70 608.48L603.70 608.48L603.70 608.27L604.70 608.27L604.70 608.45L605.70 608.45L605.70 608.22L606.70 608.22L606.70 608.64L607.70 608.64L607.70 608.61L608.70 608.61L608.70 608.58L609.70 608.58L609.70 608.51L610.70 608.51L610.70 608.40L611.70 608.40L611.70 608.81L612.70 608.81L612.70 608.83L613.70 608.83L613.70 608.47L614.70 608.47L614.70 608.82L615.70 608.82L615.70 608.87L616.70 608.87L616.70 608.86L617.70 608.86L617.70 608.71L618.70 608.71L618.70 608.74L619.70 608.74L619.70 608.64L620.70 608.64L620.70 608.93L621.70 608.93L621.70 608.83L622.70 608.83L622.70 608.82L623.70 608.82L623.70 608.71L624.70 608.71L624.70 608.62L625.70 608.62L625.70 608.62L626.70 608.62L626.70 608.62L627.70 608.62L627.70 608.72L628.70 608.72L628.70 608.74L629.70 608.74L629.70 608.92L630.70 608.92L630.70 608.95L631.70 608.95L631.70 608.76L632.70 608.76L632.70 608.80L633.70 608.80L633.70 608.75L634.70 608.75L634.70 608.78L635.70 608.78L635.70 608.97L636.70 608.97L636.70 608.92L637.70 608.92L637.70 608.83L638.70 608.83L638.70 608.86L639.70 608.86L639.70 608.88L640.70 608.88L640.70 608.89L641.70 608.89L641.70 608.84L642.70 608.84L642.70 608.90L643.70 608.90L643.70 608.91L644.70 608.91L644.70 609.04L645.70 609.04L645.70 609.04L646.70 609.04L646.70 609.08L647.70 609.08L647.70 609.08L648.70 609.08L648.70 608.96L649.70 608.96L649.70 609.07L650.70 609.07L650.70 608.94L651.70 608.94L651.70 609.01L652.70 609.01L652.70 609.11L653.70 609.11L653.70 608.97L654.70 608.97L654.70 609.03L655.70 609.03L655.70 609.14L656.70 609.14L656.70 609.04L657.70 609.04L657.70 609.10L658.70 609.10L658.70 609.14L659.70 609.14L659.70 609.07L660.70 609.07L660.70 608.95L661.70 608.95L661.70 609.14L662.70 609.14L662.70 609.02L663.70 609.02L663.70 609.03L664.70 609.03L664.70 608.99L665.70 608.99L665.70 609.04L666.70 609.04L666.70 608.96L667.70 608.96L667.70 609.15L668.70 609.15L668.70 609.09L669.70 609.09L669.70 609.07L670.70 609.07L670.70 608.97L671.70 608.97L671.70 609.06L672.70 609.06L672.70 609.12L673.70 609.12L673.70 609.08L674.70 609.08L674.70 609.06L675.70 609.06L675.70 609.13L676.70 609.13L676.70 609.05L677.70 609.05L677.70 609.01L678.70 609.01L678.70 609.10L679.70 609.10L679.70 609.00L680.70 609.00L680.70 609.14L681.70 609.14L681.70 609.05L682.70 609.05L682.70 609.05L683.70 609.05L683.70 609.19L684.70 609.19L684.70 609.04L685.70 609.04L685.70 609.00L686.70 609.00L686.70 609.16L687.70 609.16L687.70 609.03L688.70 609.03L688.70 609.10L689.70 609.10L689.70 609.07L690.70 609.07L690.70 609.21L691.70 609.21L691.70 609.15L692.70 609.15L692.70 609.11L693.70 609.11L693.70 609.11L694.70 609.11L694.70 609.19L695.70 609.19L695.70 609.09L696.70 609.09L696.70 609.11L697.70 609.11L697.70 609.05L698.70 609.05L698.70 609.18L699.70 609.18L699.70 609.19L700.70 609.19L700.70 609.06L701.70 609.06L701.70 609.20L702.70 609.20L702.70 609.11L703.70 609.11L703.70 609.17L704.70 609.17L704.70 609.18L705.70 609.18L705.70 609.19L706.70 609.19L706.70 609.06L707.70 609.06L707.70 609.14L708.70 609.14L708.70 609.10L709.70 609.10L709.70 609.17L710.70 609.17L710.70 609.18L711.70 609.18L711.70 609.13L712.70 609.13L712.70 609.13L713.70 609.13L713.70 609.09L714.70 609.09L714.70 609.15L715.70 609.15L715.70 609.24L716.70 609.24L716.70 609.09L717.70 609.09L717.70 609.15L718.70 609.15L718.70 609.17L719.70 609.17L719.70 609.15L720.70 609.15L720.70 609.16L721.70 609.16L721.70 609.13L722.70 609.13L722.70 609.20L723.70 609.20L723.70 609.11L724.70 609.11L724.70 609.14L725.70 609.14L725.70 609.14L726.70 609.14L726.70 609.21L727.70 609.21L727.70 609.12L728.70 609.12L728.70 609.23L729.70 609.23L729.70 609.10L730.70 609.10L730.70 609.22L731.70 609.22L731.70 609.17L732.70 609.17L732.70 609.20L733.70 609.20L733.70 609.07L734.70 609.07L734.70 609.23L735.70 609.23L735.70 609.24L736.70 609.24L736.70 609.22L737.70 609.22L737.70 609.23L738.70 609.23L738.70 609.21L739.70 609.21L739.70 609.21L740.70 609.21L740.70 609.19L741.70 609.19L741.70 609.15L742.70 609.15L742.70 609.23L743.70 609.23L743.70 609.27L744.70 609.27L744.70 609.17L745.70 609.17L745.70 609.05L746.70 609.05L746.70 609.18L747.70 609.18L747.70 609.14L748.70 609.14L748.70 609.14L749.70 609.14L749.70 608.90L750.70 608.90L750.70 609.03L751.70 609.03L751.70 609.05L752.70 609.05L752.70 608.89L753.70 608.89L753.70 608.35L754.70 608.35L754.70 608.86L755.70 608.86L755.70 608.81L756.70 608.81L756.70 608.79L757.70 608.79L757.70 608.94L758.70 608.94L758.70 609.04L759.70 609.04L759.70 609.04L760.70 609.04L760.70 612.32L759.70 612.32L759.70 612.39L758.70 612.39L758.70 612.41L757.70 612.41L757.70 612.31L756.70 612.31L756.70 612.78L755.70 612.78L755.70 612.87L754.70 612.87L754.70 613.15L753.70 613.15L753.70 613.06L752.70 613.06L752.70 612.69L751.70 612.69L751.70 612.32L750.70 612.32L750.70 612.22L749.70 612.22L749.70 612.23L748.70 612.23L748.70 612.23L747.70 612.23L747.70 612.21L746.70 612.21L746.70 612.19L745.70 612.19L745.70 612.17L744.70 612.17L744.70 612.25L743.70 612.25L743.70 612.19L742.70 612.19L742.70 612.16L741.70 612.16L741.70 612.12L740.70 612.12L740.70 612.11L739.70 612.11L739.70 612.13L738.70 612.13L738.70 612.23L737.70 612.23L737.70 612.11L736.70 612.11L736.70 612.19L735.70 612.19L735.70 612.16L734.70 612.16L734.70 612.20L733.70 612.20L733.70 612.12L732.70 612.12L732.70 612.20L731.70 612.20L731.70 612.10L730.70 612.10L730.70 612.23L729.70 612.23L729.70 612.12L728.70 612.12L728.70 612.20L727.70 612.20L727.70 612.20L726.70 612.20L726.70 612.12L725.70 612.12L725.70 612.22L724.70 612.22L724.70 612.13L723.70 612.13L723.70 612.23L722.70 612.23L722.70 612.25L721.70 612.25L721.70 612.13L720.70 612.13L720.70 612.16L719.70 612.16L719.70 612.17L718.70 612.17L718.70 612.08L717.70 612.08L717.70 612.16L716.70 612.16L716.70 612.24L715.70 612.24L715.70 612.16L714.70 612.16L714.70 612.25L713.70 612.25L713.70 612.19L712.70 612.19L712.70 612.17L711.70 612.17L711.70 612.15L710.70 612.15L710.70 612.24L709.70 612.24L709.70 612.19L708.70 612.19L708.70 612.20L707.70 612.20L707.70 612.24L706.70 612.24L706.70 612.11L705.70 612.11L705.70 612.23L704.70 612.23L704.70 612.12L703.70 612.12L703.70 612.19L702.70 612.19L702.70 612.07L701.70 612.07L701.70 612.16L700.70 612.16L700.70 612.16L699.70 612.16L699.70 612.08L698.70 612.08L698.70 612.23L697.70 612.23L697.70 612.15L696.70 612.15L696.70 612.15L695.70 612.15L695.70 612.18L694.70 612.18L694.70 612.23L693.70 612.23L693.70 612.21L692.70 612.21L692.70 612.20L691.70 612.20L691.70 612.12L690.70 612.12L690.70 612.13L689.70 612.13L689.70 612.09L688.70 612.09L688.70 612.24L687.70 612.24L687.70 612.11L686.70 612.11L686.70 612.25L685.70 612.25L685.70 612.11L684.70 612.11L684.70 612.16L683.70 612.16L683.70 612.27L682.70 612.27L682.70 612.15L681.70 612.15L681.70 612.18L680.70 612.18L680.70 612.23L679.70 612.23L679.70 612.14L678.70 612.14L678.70 612.24L677.70 612.24L677.70 612.28L676.70 612.28L676.70 612.25L675.70 612.25L675.70 612.22L674.70 612.22L674.70 612.23L673.70 612.23L673.70 612.15L672.70 612.15L672.70 612.23L671.70 612.23L671.70 612.25L670.70 612.25L670.70 612.16L669.70 612.16L669.70 612.18L668.70 612.18L668.70 612.17L667.70 612.17L667.70 612.27L666.70 612.27L666.70 612.28L665.70 612.28L665.70 612.30L664.70 612.30L664.70 612.16L663.70 612.16L663.70 612.16L662.70 612.16L662.70 612.14L661.70 612.14L661.70 612.29L660.70 612.29L660.70 612.23L659.70 612.23L659.70 612.17L658.70 612.17L658.70 612.12L657.70 612.12L657.70 612.26L656.70 612.26L656.70 612.13L655.70 612.13L655.70 612.18L654.70 612.18L654.70 612.18L653.70 612.18L653.70 612.19L652.70 612.19L652.70 612.24L651.70 612.24L651.70 612.20L650.70 612.20L650.70 612.28L649.70 612.28L649.70 612.29L648.70 612.29L648.70 612.17L647.70 612.17L647.70 612.27L646.70 612.27L646.70 612.20L645.70 612.20L645.70 612.28L644.70 612.28L644.70 612.22L643.70 612.22L643.70 612.29L642.70 612.29L642.70 612.26L641.70 612.26L641.70 612.17L640.70 612.17L640.70 612.23L639.70 612.23L639.70 612.18L638.70 612.18L638.70 612.19L637.70 612.19L637.70 612.21L636.70 612.21L636.70 612.14L635.70 612.14L635.70 612.12L634.70 612.12L634.70 612.28L633.70 612.28L633.70 612.21L632.70 612.21L632.70 612.20L631.70 612.20L631.70 612.20L630.70 612.20L630.70 612.22L629.70 612.22L629.70 612.34L628.70 612.34L628.70 612.20L627.70 612.20L627.70 612.31L626.70 612.31L626.70 612.33L625.70 612.33L625.70 612.29L624.70 612.29L624.70 612.35L623.70 612.35L623.70 612.31L622.70 612.31L622.70 612.38L621.70 612.38L621.70 612.29L620.70 612.29L620.70 612.29L619.70 612.29L619.70 612.42L618.70 612.42L618.70 612.48L617.70 612.48L617.70 612.31L616.70 612.31L616.70 612.37L615.70 612.37L615.70 612.45L614.70 612.45L614.70 612.48L613.70 612.48L613.70 612.33L612.70 612.33L612.70 612.51L611.70 612.51L611.70 612.47L610.70 612.47L610.70 612.49L609.70 612.49L609.70 612.54L608.70 612.54L608.70 612.51L607.70 612.51L607.70 612.57L606.70 612.57L606.70 612.48L605.70 612.48L605.70 612.58L604.70 612.58L604.70 612.44L603.70 612.44L603.70 612.60L602.70 612.60L602.70 612.47L601.70 612.47L601.70 612.44L600.70 612.44L600.70 612.62L599.70 612.62L599.70 612.62L598.70 612.62L598.70 612.51L597.70 612.51L597.70 612.72L596.70 612.72L596.70 612.72L595.70 612.72L595.70 612.79L594.70 612.79L594.70 612.62L593.70 612.62L593.70 612.72L592.70 612.72L592.70 613.15L591.70 613.15L591.70 613.03L590.70 613.03L590.70 612.55L589.70 612.55L589.70 612.67L588.70 612.67L588.70 612.58L587.70 612.58L587.70 612.69L586.70 612.69L586.70 612.88L585.70 612.88L585.70 612.98L584.70 612.98L584.70 612.74L583.70 612.74L583.70 613.04L582.70 613.04L582.70 613.06L581.70 613.06L581.70 612.91L580.70 612.91L580.70 613.31L579.70 613.31L579.70 613.21L578.70 613.21L578.70 613.24L577.70 613.24L577.70 612.75L576.70 612.75L576.70 612.81L575.70 612.81L575.70 612.60L574.70 612.60L574.70 612.82L573.70 612.82L573.70 612.84L572.70 612.84L572.70 612.76L571.70 612.76L571.70 612.59L570.70 612.59L570.70 613.62L569.70 613.62L569.70 613.17L568.70 613.17L568.70 612.99L567.70 612.99L567.70 612.95L566.70 612.95L566.70 613.28L565.70 613.28L565.70 613.07L564.70 613.07L564.70 613.79L563.70 613.79L563.70 613.47L562.70 613.47L562.70 613.73L561.70 613.73L561.70 613.82L560.70 613.82L560.70 613.46L559.70 613.46L559.70 612.95L558.70 612.95L558.70 613.21L557.70 613.21L557.70 613.36L556.70 613.36L556.70 613.51L555.70 613.51L555.70 613.72L554.70 613.72L554.70 613.51L553.70 613.51L553.70 613.55L552.70 613.55L552.70 613.65L551.70 613.65L551.70 613.58L550.70 613.58L550.70 614.01L549.70 614.01L549.70 613.73L548.70 613.73L548.70 613.67L547.70 613.67L547.70 613.85L546.70 613.85L546.70 613.25L545.70 613.25L545.70 613.33L544.70 613.33L544.70 613.43L543.70 613.43L543.70 613.32L542.70 613.32L542.70 613.60L541.70 613.60L541.70 613.86L540.70 613.86L540.70 614.49L539.70 614.49L539.70 614.23L538.70 614.23L538.70 613.84L537.70 613.84L537.70 613.97L536.70 613.97L536.70 613.67L535.70 613.67L535.70 614.97L534.70 614.97L534.70 614.18L533.70 614.18L533.70 614.25L532.70 614.25L532.70 614.60L531.70 614.60L531.70 614.61L530.70 614.61L530.70 614.22L529.70 614.22L529.70 614.48L528.70 614.48L528.70 614.90L527.70 614.90L527.70 615.18L526.70 615.18L526.70 614.43L525.70 614.43L525.70 614.71L524.70 614.71L524.70 614.56L523.70 614.56L523.70 615.53L522.70 615.53L522.70 615.32L521.70 615.32L521.70 615.18L520.70 615.18L520.70 614.72L519.70 614.72L519.70 614.76L518.70 614.76L518.70 617.36L517.70 617.36L517.70 615.34L516.70 615.34L516.70 614.91L515.70 614.91L515.70 614.68L514.70 614.68L514.70 614.47L513.70 614.47L513.70 615.18L512.70 615.18L512.70 614.30L511.70 614.30L511.70 615.01L510.70 615.01L510.70 614.53L509.70 614.53L509.70 615.08L508.70 615.08L508.70 615.61L507.70 615.61L507.70 615.63L506.70 615.63L506.70 615.41L505.70 615.41L505.70 615.97L504.70 615.97L504.70 615.51L503.70 615.51L503.70 616.46L502.70 616.46L502.70 615.16L501.70 615.16L501.70 616.10L500.70 616.10L500.70 614.59L499.70 614.59L499.70 615.82L498.70 615.82L498.70 615.78L497.70 615.78L497.70 616.27L496.70 616.27L496.70 617.80L495.70 617.80L495.70 617.75L494.70 617.75L494.70 618.06L493.70 618.06L493.70 617.69L492.70 617.69L492.70 619.59L491.70 619.59L491.70 617.48L490.70 617.48L490.70 617.60L489.70 617.60L489.70 619.47L488.70 619.47L488.70 619.75L487.70 619.75L487.70 619.75L486.70 619.75L486.70 618.93L485.70 618.93L485.70 616.93L484.70 616.93L484.70 618.00L483.70 618.00L483.70 618.31L482.70 618.31L482.70 616.74L481.70 616.74L481.70 616.91L480.70 616.91L480.70 619.29L479.70 619.29L479.70 618.36L478.70 618.36L478.70 620.37L477.70 620.37L477.70 618.60L476.70 618.60L476.70 619.56L475.70 619.56L475.70 620.33L474.70 620.33L474.70 619.03L473.70 619.03L473.70 619.43L472.70 619.43L472.70 621.54L471.70 621.54L471.70 621.21L470.70 621.21L470.70 620.17L469.70 620.17L469.70 618.63L468.70 618.63L468.70 618.31L467.70 618.31L467.70 619.27L466.70 619.27L466.70 619.65L465.70 619.65L465.70 618.73L464.70 618.73L464.70 620.85L463.70 620.85L463.70 619.89L462.70 619.89L462.70 620.05L461.70 620.05L461.70 617.78L460.70 617.78L460.70 619.68L459.70 619.68L459.70 618.08L458.70 618.08L458.70 618.40L457.70 618.40L457.70 619.52L456.70 619.52L456.70 620.43L455.70 620.43L455.70 618.60L454.70 618.60L454.70 618.79L453.70 618.79L453.70 618.93L452.70 618.93L452.70 620.36L451.70 620.36L451.70 619.57L450.70 619.57L450.70 621.16L449.70 621.16L449.70 621.72L448.70 621.72L448.70 619.49L447.70 619.49L447.70 620.84L446.70 620.84L446.70 621.36L445.70 621.36L445.70 619.38L444.70 619.38L444.70 620.63L443.70 620.63L443.70 622.40L442.70 622.40L442.70 623.46L441.70 623.46L441.70 621.92L440.70 621.92L440.70 622.98L439.70 622.98L439.70 623.76L438.70 623.76L438.70 628.98L437.70 628.98L437.70 624.42L436.70 624.42L436.70 626.67L435.70 626.67L435.70 623.95L434.70 623.95L434.70 624.88L433.70 624.88L433.70 623.87L432.70 623.87L432.70 622.75L431.70 622.75L431.70 622.85L430.70 622.85L430.70 623.33L429.70 623.33L429.70 626.78L428.70 626.78L428.70 625.04L427.70 625.04L427.70 626.53L426.70 626.53L426.70 622.44L425.70 622.44L425.70 623.31L424.70 623.31L424.70 622.99L423.70 622.99L423.70 624.50L422.70 624.50L422.70 622.94L421.70 622.94L421.70 623.24L420.70 623.24L420.70 623.36L419.70 623.36L419.70 626.20L418.70 626.20L418.70 625.20L417.70 625.20L417.70 628.97L416.70 628.97L416.70 629.09L415.70 629.09L415.70 633.65L414.70 633.65L414.70 628.74L413.70 628.74L413.70 629.46L412.70 629.46L412.70 628.10L411.70 628.10L411.70 625.85L410.70 625.85L410.70 627.55L409.70 627.55L409.70 632.48L408.70 632.48L408.70 636.01L407.70 636.01L407.70 631.02L406.70 631.02L406.70 632.39L405.70 632.39L405.70 635.60L404.70 635.60L404.70 631.28L403.70 631.28L403.70 627.39L402.70 627.39L402.70 630.05L401.70 630.05L401.70 628.57L400.70 628.57L400.70 632.28L399.70 632.28L399.70 630.80L398.70 630.80L398.70 630.27L397.70 630.27L397.70 634.78L396.70 634.78L396.70 630.24L395.70 630.24L395.70 630.67L394.70 630.67L394.70 632.68L393.70 632.68L393.70 632.67L392.70 632.67L392.70 635.67L391.70 635.67L391.70 632.76L390.70 632.76L390.70 634.60L389.70 634.60L389.70 632.20L388.70 632.20L388.70 633.49L387.70 633.49L387.70 640.51L386.70 640.51L386.70 632.99L385.70 632.99L385.70 640.00L384.70 640.00L384.70 632.19L383.70 632.19L383.70 633.07L382.70 633.07L382.70 630.60L381.70 630.60L381.70 638.48L380.70 638.48L380.70 630.21L379.70 630.21L379.70 638.68L378.70 638.68L378.70 632.02L377.70 632.02L377.70 636.98L376.70 636.98L376.70 635.96L375.70 635.96L375.70 636.94L374.70 636.94L374.70 634.95L373.70 634.95L373.70 635.80L372.70 635.80L372.70 631.63L371.70 631.63L371.70 637.81L370.70 637.81L370.70 637.35L369.70 637.35L369.70 630.21L368.70 630.21L368.70 633.57L367.70 633.57L367.70 635.33L366.70 635.33L366.70 632.46L365.70 632.46L365.70 633.08L364.70 633.08L364.70 636.75L363.70 636.75L363.70 638.23L362.70 638.23L362.70 644.57L361.70 644.57L361.70 634.56L360.70 634.56L360.70 636.23L359.70 636.23L359.70 641.15L358.70 641.15L358.70 643.83L357.70 643.83L357.70 639.70L356.70 639.70L356.70 644.56L355.70 644.56L355.70 655.33L354.70 655.33L354.70 652.17L353.70 652.17L353.70 645.65L352.70 645.65L352.70 658.48L351.70 658.48L351.70 649.73L350.70 649.73L350.70 646.60L349.70 646.60L349.70 647.56L348.70 647.56L348.70 648.17L347.70 648.17L347.70 643.87L346.70 643.87L346.70 647.26L345.70 647.26L345.70 648.82L344.70 648.82L344.70 653.83L343.70 653.83L343.70 669.99L342.70 669.99L342.70 652.72L341.70 652.72L341.70 648.96L340.70 648.96L340.70 642.08L339.70 642.08L339.70 642.60L338.70 642.60L338.70 646.30L337.70 646.30L337.70 652.07L336.70 652.07L336.70 659.39L335.70 659.39L335.70 656.90L334.70 656.90L334.70 680.20L333.70 680.20L333.70 660.87L332.70 660.87L332.70 643.61L331.70 643.61L331.70 659.24L330.70 659.24L330.70 683.70L329.70 683.70L329.70 659.90L328.70 659.90L328.70 648.42L327.70 648.42L327.70 638.98L326.70 638.98L326.70 638.32L325.70 638.32L325.70 630.52L324.70 630.52L324.70 627.78L323.70 627.78L323.70 626.53L322.70 626.53L322.70 627.08L321.70 627.08L321.70 628.64L320.70 628.64L320.70 624.48L319.70 624.48L319.70 624.28L318.70 624.28L318.70 626.57L317.70 626.57L317.70 623.15L316.70 623.15L316.70 625.39L315.70 625.39L315.70 625.73L314.70 625.73L314.70 625.96L313.70 625.96L313.70 624.67L312.70 624.67L312.70 622.85L311.70 622.85L311.70 625.01L310.70 625.01L310.70 624.07L309.70 624.07L309.70 621.64L308.70 621.64L308.70 623.29L307.70 623.29L307.70 622.29L306.70 622.29L306.70 623.29L305.70 623.29L305.70 623.10L304.70 623.10L304.70 623.84L303.70 623.84L303.70 625.65L302.70 625.65L302.70 623.81L301.70 623.81L301.70 627.56L300.70 627.56L300.70 625.89L299.70 625.89L299.70 628.40L298.70 628.40L298.70 628.39L297.70 628.39L297.70 626.79L296.70 626.79L296.70 625.76L295.70 625.76L295.70 627.13L294.70 627.13L294.70 625.28L293.70 625.28L293.70 628.80L292.70 628.80L292.70 623.62L291.70 623.62L291.70 624.27L290.70 624.27L290.70 625.82L289.70 625.82L289.70 629.89L288.70 629.89L288.70 628.67L287.70 628.67L287.70 626.68L286.70 626.68L286.70 627.11L285.70 627.11L285.70 626.76L284.70 626.76L284.70 629.20L283.70 629.20L283.70 628.62L282.70 628.62L282.70 624.51L281.70 624.51L281.70 625.96L280.70 625.96L280.70 623.90L279.70 623.90L279.70 618.02L278.70 618.02L278.70 614.90L277.70 614.90L277.70 611.20L276.70 611.20L276.7 611.35L80.5 611.35ZM93.8 609.60h1.3v2.10h-1.3ZM111.3 609.60h1.3v2.10h-1.3ZM117.3 609.60h1.3v2.10h-1.3ZM169.3 609.60h1.3v2.10h-1.3ZM195.3 609.60h1.3v2.10h-1.3Z" fill="#4c4c4c" stroke="none"/>
<path d="M80.50 502.50h5.90M760.50 502.50h-5.90" stroke="#4c4c4c" stroke-width="0.80" fill="none"/>
<text x="73.6" y="506.57" text-anchor="end" style="letter-spacing:-0.3px">0.3</text>
<path d="M80.50 538.50h5.90M760.50 538.50h-5.90" stroke="#4c4c4c" stroke-width="0.80" fill="none"/>
<text x="73.6" y="542.68" text-anchor="end" style="letter-spacing:-0.3px">0.2</text>
<path d="M80.50 575.50h5.90M760.50 575.50h-5.90" stroke="#4c4c4c" stroke-width="0.80" fill="none"/>
<text x="73.6" y="578.79" text-anchor="end" style="letter-spacing:-0.3px">0.1</text>
<path d="M80.50 611.50h5.90M760.50 611.50h-5.90" stroke="#4c4c4c" stroke-width="0.80" fill="none"/>
<text x="73.6" y="614.90" text-anchor="end" style="letter-spacing:-0.3px">0.0</text>
<path d="M80.50 647.50h5.90M760.50 647.50h-5.90" stroke="#4c4c4c" stroke-width="0.80" fill="none"/>
<text x="73.6" y="651.01" text-anchor="end" style="letter-spacing:-0.3px">−0.1</text>
<path d="M80.50 683.50h5.90M760.50 683.50h-5.90" stroke="#4c4c4c" stroke-width="0.80" fill="none"/>
<text x="73.6" y="687.12" text-anchor="end" style="letter-spacing:-0.3px">−0.2</text>
<path d="M137.50 710.50v-5.90M137.50 493.50v5.90" stroke="#4c4c4c" stroke-width="0.80" fill="none"/>
<path d="M260.50 710.50v-5.90M260.50 493.50v5.90" stroke="#4c4c4c" stroke-width="0.80" fill="none"/>
<path d="M383.50 710.50v-5.90M383.50 493.50v5.90" stroke="#4c4c4c" stroke-width="0.80" fill="none"/>
<path d="M506.50 710.50v-5.90M506.50 493.50v5.90" stroke="#4c4c4c" stroke-width="0.80" fill="none"/>
<path d="M629.50 710.50v-5.90M629.50 493.50v5.90" stroke="#4c4c4c" stroke-width="0.80" fill="none"/>
<path d="M752.50 710.50v-5.90M752.50 493.50v5.90" stroke="#4c4c4c" stroke-width="0.80" fill="none"/>
<rect x="89.60" y="499.98" width="108.20" height="22.20" rx="4.2" ry="4.2" fill="#fff" fill-opacity="0.8" stroke="#626262" stroke-width="1.3"/>
<text x="93.8" y="515.63" style="letter-spacing:-0.1px">C1.C18O..HNE</text>
</g>
<rect x="80.50" y="60.50" width="680.00" height="650.00" fill="none" stroke="#4c4c4c" stroke-width="1.3"/>
<path d="M80.50 277.50H760.50" stroke="#4c4c4c" stroke-width="1.3" fill="none"/>
<path d="M80.50 493.50H760.50" stroke="#4c4c4c" stroke-width="1.3" fill="none"/>
<text x="137.80" y="727.2" text-anchor="middle" style="letter-spacing:-0.13px">18:44:21</text>
<text x="260.70" y="727.2" text-anchor="middle" style="letter-spacing:-0.13px">18:44:51</text>
<text x="383.59" y="727.2" text-anchor="middle" style="letter-spacing:-0.13px">18:45:21</text>
<text x="506.49" y="727.2" text-anchor="middle" style="letter-spacing:-0.13px">18:45:51</text>
<text x="629.38" y="727.2" text-anchor="middle" style="letter-spacing:-0.13px">18:46:21</text>
<text x="752.28" y="727.2" text-anchor="middle" style="letter-spacing:-0.13px">18:46:51</text>
</svg></body></html>
